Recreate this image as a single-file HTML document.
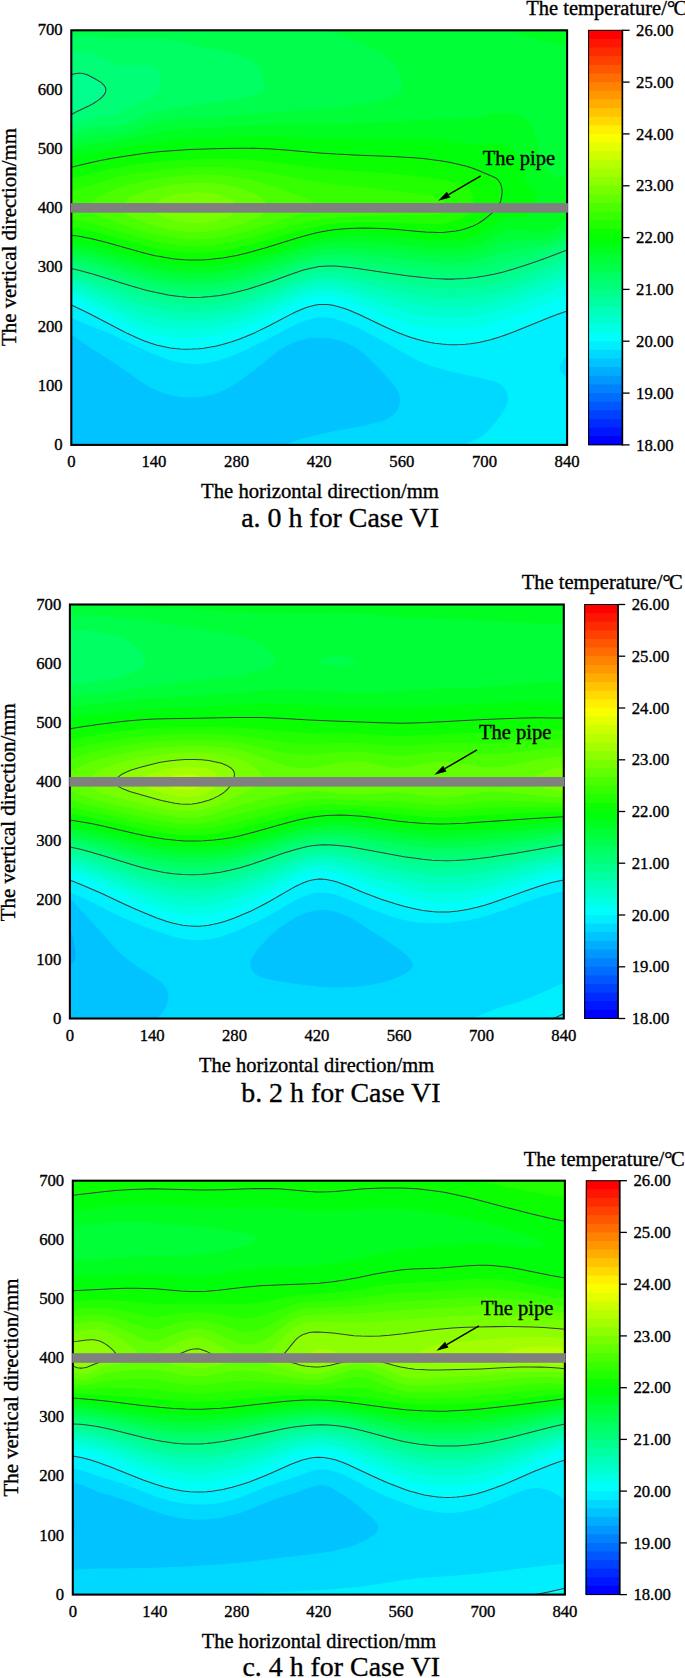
<!DOCTYPE html>
<html><head><meta charset="utf-8"><title>Temperature contours for Case VI</title>
<style>html,body{margin:0;padding:0;background:#fff}svg{display:block}text{stroke:#000;stroke-width:.35px}</style></head>
<body>
<svg width="685" height="1678" viewBox="0 0 685 1678" font-family="'Liberation Serif','Noto Serif CJK SC',serif" fill="#000">
<rect x="71.3" y="30.3" width="495.8" height="414.6" fill="#00c3ff"/>
<path fill="#00d9ff" d="M285.1,444.9 567.1,444.9 567.1,30.3 71.3,30.3 71.3,334.6 73.7,336.5 78.4,339.7 80.1,340.7 92.5,349.2 113.8,362.4 142.1,382.5 146.9,385.5 151.4,388 158.7,391.4 163.4,393.2 168.1,394.6 172.8,395.8 177.5,396.6 182.3,397.2 187,397.5 191.7,397.6 198.8,397.1 203.5,396.5 208.2,395.5 213,394.3 217.7,392.7 222.4,390.9 227.1,388.6 231.8,386 236.6,382.9 253.1,371 262.5,363.8 279.4,350.1 281.4,349 283,347.8 286.1,346.3 288.5,344.9 293.2,342.7 300.3,340.2 308.3,338.3 312.1,337.8 321.6,337.7 328.6,338.1 333.4,338.9 340.4,340.7 345.2,342.4 351.7,345.4 356,347.8 359.5,350.1 364.1,354 368.8,358.4 375.9,365.4 383.9,373.8 392.3,383.3 395.8,388 398.6,392.8 399.4,395.1 399.9,397.5 400.1,399.9 399.4,404.6 398.8,407 397.7,409.4 396.2,411.7 394.2,414.1 390,417.2 385.3,419.7 381.4,421.2 378.2,422.2 371.1,424.1 364.1,425.8 328.6,432.3 307.4,437.2 300.3,439.1 293.2,441.4 288.5,443.2 285.1,444.9Z"/>
<path fill="#00efff" d="M463.6,444.9 567.1,444.9 567.1,379.8 566.5,378.6 560.6,371.5 559.9,369.1 559.9,366.7 560.8,364.3 563.7,359.6 567.1,355.2 567.1,30.3 71.3,30.3 71.3,317.8 83.1,323 111.4,334.3 120.9,338.7 123.2,340 142.1,349 151.6,353.3 156.2,354.9 158.7,356.1 168.1,359.4 175.2,361.5 184.6,363.2 189.3,363.8 194.1,364 198.8,363.9 203.5,363.5 210.6,362.5 220,360.1 229.5,356.9 243.6,350.9 255.5,345.3 269.6,338.2 288.5,328.1 295.6,324.6 302.7,321.5 309.8,319 316.8,317.5 319.2,317.3 323.9,317.2 331,317.9 335.7,319 340.4,320.4 349.9,324 361.7,329.7 386.5,343 411.3,357.1 418.4,360.7 425.4,363.7 430.2,365.5 437.2,367.8 446.7,370.4 458.5,373.3 479.7,377.8 493.9,381.3 496.3,382.1 498.8,383.3 501,384.8 503.4,387.1 505.7,390.2 507,392.8 507.8,395.1 508.1,396.8 508.1,399.9 506.9,404.6 505.8,407 503.4,411.4 500.1,416.5 498.3,418.8 494.4,423.6 487.9,430.7 485.6,433.1 482.8,435.4 479.2,437.8 477.4,438.7 463.6,444.9Z"/>
<path fill="#00fffa" d="M169.5,347.8 175.2,348.5 182.3,349.1 189.3,349.2 196.4,348.9 203.5,348.2 210.6,347.1 217.7,345.6 224.8,343.8 231.8,341.7 238.9,339.2 246,336.5 255.5,332.4 269.6,325.5 290.2,314.6 300.3,309.8 306.3,307.5 309.8,306.4 314.5,305.2 319.2,304.6 326.3,304.5 331.7,305.1 340.4,307.2 347.5,309.6 359.2,314.6 385.3,327 397.1,332.3 408.9,336.7 416,339 425.4,341.4 434.9,343.2 442,344.1 451.4,344.7 460.9,344.6 470.3,343.8 482.1,341.8 491.5,339.5 501,336.6 512.8,332.3 550.5,317 557.7,314.3 567.1,311.1 567.1,30.3 71.3,30.3 71.3,305.1 86.6,312.2 122.9,331.2 132.7,335.9 137.4,338 144.5,340.9 153.9,344.2 161,346.1 169.5,347.8Z"/>
<path fill="#00ffe4" d="M179.4,338.3 184.6,338.4 191.7,338.2 198.8,337.7 205.9,336.9 213,335.8 220,334.4 231.8,331.4 243.6,327.5 255.5,322.7 267.3,317.4 291.9,305.1 300.3,301.4 305,299.6 309.8,298.1 314.5,297 319.2,296.3 323.9,296.1 331,296.5 338.1,297.8 345.2,299.8 357,304 380.6,313.7 392.4,318.2 404.2,322.2 413.6,324.8 423.1,326.7 432.5,328.1 442,328.9 451.4,329.1 463.2,328.5 472.7,327.3 482.1,325.4 491.5,322.9 512.8,316.1 529.3,310.2 545.9,303.9 567.1,295.1 567.1,30.3 71.3,30.3 71.3,297.1 78.4,299.9 84.7,302.8 94,307.5 111.4,316.9 120.9,321.8 130.3,326.3 139.8,330.2 149.2,333.5 158.7,335.9 168.1,337.4 172.8,337.9 179.4,338.3Z"/>
<path fill="#00ffce" d="M179.6,328.8 191.7,328.8 198.8,328.4 205.9,327.7 213,326.8 220,325.5 231.8,322.7 243.6,319 257.8,313.7 269.6,308.6 292.2,298 300.3,294.6 305,292.9 309.8,291.5 314.5,290.4 319.2,289.7 323.9,289.4 331,289.8 335.7,290.4 342.8,291.9 347.9,293.3 355.5,295.6 380.6,304.3 392.4,308.2 404.2,311.5 413.6,313.7 425.4,315.7 434.9,316.8 444.3,317.4 453.8,317.4 465.6,316.7 475,315.5 486.8,313.2 498.6,310.1 512.8,305.6 529.3,299.8 548.2,292.4 567.1,284.7 567.1,30.3 71.3,30.3 71.3,290.7 78.4,293.2 85.5,296.2 94.4,300.4 120.9,313.5 130.3,317.7 139.8,321.3 149.2,324.2 158.7,326.5 168.1,327.9 179.6,328.8Z"/>
<path fill="#00ffb8" d="M171,319.3 177.5,319.9 184.6,320.3 191.7,320.3 198.8,320.1 205.9,319.5 213,318.6 220,317.4 227.1,316 234.2,314.2 241.3,312.1 255.5,307.3 269.6,301.6 293.2,291.3 302.7,287.6 309.8,285.5 314.5,284.4 319.2,283.7 323.9,283.4 328.6,283.5 333.4,283.9 338.1,284.5 345.2,285.9 355.3,288.5 380.6,295.8 392.4,299 406.6,302.3 418.4,304.5 432.5,306.3 444.3,307.1 451.4,307.2 458.5,307.1 470.3,306.2 479.7,304.9 489.2,303.1 498.6,300.8 510.4,297.3 519.9,294.1 531.7,289.8 567.1,275.8 567.1,30.3 71.3,30.3 71.3,284.9 78.4,287.3 87.9,290.9 120.9,305.4 130.3,309.1 137.4,311.7 144.5,313.9 153.9,316.4 163.4,318.3 171,319.3Z"/>
<path fill="#00ffa3" d="M185.2,312.2 196.4,312.3 208.2,311.6 220,309.9 227.1,308.5 234.2,306.8 246,303.5 260.2,298.6 272,294 291,286.2 300.3,282.7 309.8,279.8 314.5,278.8 319.2,278.1 323.9,277.7 331,277.8 335.7,278.2 342.8,279.2 352.3,281.1 380.6,287.8 394.8,290.9 408.9,293.6 420.7,295.4 432.5,296.8 442,297.4 451.4,297.7 460.9,297.5 472.7,296.5 482.1,295.3 493.9,293.1 503.4,290.7 512.8,287.9 524.6,283.8 567.1,267.3 567.1,30.3 71.3,30.3 71.3,279.5 78.4,281.6 87.8,284.8 118.5,296.6 128,300.1 137.4,303.2 144.5,305.3 156.3,308.3 165.7,310.2 175.2,311.5 185.2,312.2Z"/>
<path fill="#00ff8d" d="M169.4,302.8 175.2,303.6 182.3,304.3 189.3,304.7 196.4,304.8 203.5,304.5 210.6,303.9 217.7,303 224.8,301.8 231.8,300.2 238.9,298.5 246,296.5 255.5,293.5 269.6,288.5 295.6,278.5 305,275.4 314.5,273.2 319.2,272.4 323.9,272 328.6,271.9 333.4,272.1 338.1,272.5 345.2,273.4 399.5,283.2 416,285.7 427.8,287.1 439.6,288.1 451.4,288.4 463.2,288.1 475,287.1 484.5,285.8 493.9,284 501,282.4 510.4,279.7 519.9,276.7 529.3,273.3 567.1,258.9 567.1,30.3 71.3,30.3 71.3,274 78.4,276 88.6,279.1 125.6,291.5 139.8,295.9 153.9,299.7 161,301.2 169.4,302.8Z"/>
<path fill="#00ff77" d="M172.4,295.6 179.9,296.6 187,297.2 198.8,297.4 205.9,297.1 213,296.4 220,295.4 227.1,294.2 238.9,291.5 246,289.6 255.5,286.8 269.6,282.1 295.6,272.6 305,269.6 314.5,267.4 319.2,266.6 323.9,266.2 333.4,266 345.2,266.9 408.9,275.9 423.1,277.6 432.5,278.5 444.3,279.1 453.8,279.1 463.2,278.7 472.7,277.8 482.1,276.5 491.5,274.7 503.2,272 512.8,269.3 524.6,265.5 536.4,261.5 567.1,250.1 567.1,30.3 71.3,30.3 71.3,75 73.7,74.1 76,73.5 78.4,73.2 80.7,73.2 83.1,73.6 87.8,75.1 94.9,78.7 101.1,82.4 103.6,84.8 105.3,87.2 105.9,89.5 105.6,91.9 104.5,94.3 102,97.1 99.8,99 97.3,100.9 92.9,103.7 88.6,106.1 76,111.9 71.3,114.9 71.3,268.4 80.7,270.8 93.4,274.3 128,285 144.5,289.7 158.7,293.2 165.7,294.6 172.4,295.6Z"/>
<path fill="#00ff62" d="M169.9,288.5 177.5,289.6 184.6,290.3 191.7,290.6 198.8,290.7 205.9,290.4 213,289.7 220,288.8 227.1,287.6 241.3,284.5 255.5,280.5 269.6,276 294.4,267.2 305,263.9 310.6,262.5 316.8,261.2 321.6,260.6 326.3,260.1 331,259.9 338.1,260 349.9,260.8 373.5,263.4 416,268.5 434.9,270.3 444.3,270.7 451.4,270.7 460.9,270.3 467.9,269.7 477.4,268.3 484.5,266.8 508.1,260.4 531.7,254.7 541.1,252.2 548.2,250 555.3,247.5 562.4,244.5 567.1,242.1 567.1,30.3 71.3,30.3 71.3,54.1 73.7,53.3 78.4,52.4 83.1,52.4 87.8,53.1 92.5,54.3 97.3,56 109.1,61.5 113.8,63.5 118.5,64.9 123.2,65.7 130.3,66.2 146.9,65.6 149.2,65.8 151.6,66.3 153.9,67.2 155.6,68.2 158,70.6 158.7,72 159.8,75.3 160.2,77.7 160.5,84.8 160.5,87.2 160.3,89.5 159.1,91.9 156.4,94.3 152.3,96.6 132.7,105.5 122.7,110.9 118.5,112.9 113.8,114.7 111.4,115.3 94.9,117.6 90.2,118.5 85.5,119.7 80.7,121.4 78.4,122.4 76,123.7 71.3,127.1 71.3,262.9 80.7,265 92.5,268.1 132.7,279.9 144.5,283.1 158.7,286.5 169.9,288.5Z"/>
<path fill="#00ff4c" d="M179.5,283.8 191.7,284.6 198.8,284.6 205.9,284.3 217.7,283.1 224.8,282.1 231.8,280.7 243.6,278 257.8,274.1 272,269.6 295.6,261.5 307.4,257.9 314.5,256.2 319.2,255.4 328.6,254.3 340.4,254 347.5,254.3 357,254.9 380.6,257.1 420.7,261.5 437.2,262.9 451.4,263.2 458.5,263 465.6,262.4 472.7,261.3 479.7,259.7 486.4,257.7 501,252.6 508.1,250.8 517.5,249.1 536.4,246.6 545.9,244.8 550.6,243.5 555.3,241.8 560,239.6 564.7,236.8 567.1,235.1 567.1,30.3 71.3,30.3 71.3,36.6 78.4,36 87.8,36.1 97.3,36.9 111.4,38.6 118.5,39 125.6,38.8 139.8,37.9 146.9,37.7 153.9,37.7 161,38.2 168.1,39.1 175.2,40.3 183.6,42.1 196.4,45.7 205.9,47.9 227.1,51.5 231.8,52.5 237.6,54 241.3,55.4 248.2,58.7 251.9,61.1 257.5,65.8 261,70.6 262.2,72.9 263.9,77.7 264.2,80.1 264.7,84.8 264.7,89.5 262,91.9 257.3,94.3 249.2,96.6 236.4,99 221.3,101.4 177.5,107.5 163.4,110.1 156.3,111.8 151.6,113.3 144.5,116 132.7,120.9 127.8,122.7 123.2,124.1 116.2,125.7 111.4,126.4 94.9,127.1 87.8,128 83.1,129.2 78.4,131.1 76,132.3 71.3,135.3 71.3,257.8 80.7,259.7 92.5,262.6 104.4,265.8 135,274.7 149.2,278.4 158.7,280.6 165.7,281.9 172.8,283 179.5,283.8Z"/>
<path fill="#00ff36" d="M168.7,276.7 175.2,277.6 182.3,278.3 189.3,278.7 196.4,278.9 203.5,278.7 210.6,278.2 217.7,277.4 227.1,275.9 241.3,273 257.8,268.6 272,264.2 298,255.5 307.4,252.7 314.5,250.9 319.2,250 323.9,249.2 331,248.5 338.1,248.1 347.5,248 357,248.3 366.4,248.9 385.3,250.5 423.1,254.6 439.6,255.8 451.4,256.1 458.5,255.8 463.2,255.4 467.9,254.7 472.7,253.8 479.7,251.9 486.8,249.2 498.6,243.8 501,242.9 505.7,241.6 510.4,240.7 515.2,240.3 519.9,240 534,239.9 538.8,239.6 543.5,239.1 548.2,238.2 552.9,236.9 557.7,234.8 560,233.5 562.7,231.7 567.1,227.9 567.1,30.3 319.2,30.3 326.3,31.2 331,32.2 335.7,33.4 342.8,35.6 353.8,39.8 370.1,46.9 379.1,51.6 386.5,56.4 389.5,58.7 394.4,63.5 397.8,68.2 399.9,72.9 400.6,75.3 401.1,77.7 401.7,82.4 401.8,89.5 400.1,91.9 397.5,94.3 392.5,96.6 385.3,99 380.6,100.3 376.6,101.4 371.1,102.4 361.7,104.1 348.8,106.1 328.9,108.5 300.3,110.7 274.3,112.2 250.7,113.8 203.5,117.7 177.5,119.2 168.1,120.2 161,121.4 153.9,123.1 132.8,129.8 120.9,132.9 116.2,133.8 111.4,134.4 92.5,135.5 85.5,136.7 80.7,138 78.4,138.9 76,140 71.3,142.6 71.3,252.8 83.1,255 94.9,257.8 106.7,261 135,269.1 146.9,272.2 158.7,274.9 168.7,276.7ZM278,30.3 288.5,30.8 304.3,30.3 278,30.3Z"/>
<path fill="#00ff21" d="M176.1,272 182.3,272.5 189.3,273 196.4,273.1 203.5,272.9 215.3,271.9 222.4,270.9 230.3,269.6 243.6,266.7 259.6,262.5 274.3,257.9 298,250.1 309.8,246.7 319.2,244.5 331,242.7 338.1,242.1 347.5,241.7 357,241.8 366.4,242.1 385.3,243.5 418.4,247 432.5,248.2 446.7,248.8 456.1,248.6 463.2,248 467.9,247.2 472.7,246.2 477.4,244.7 480.5,243.5 484.5,241.7 498.6,233.8 503.4,231.9 508.1,230.8 512.8,230.3 517.5,230.3 534,231.7 538.8,231.9 543.5,231.7 545.9,231.4 550.6,230.2 553.3,229.3 557.7,226.9 560.8,224.6 562.4,223.1 567.1,217.9 567.1,162.1 564.7,172.2 563.5,174.8 562.4,176.7 561.6,177.2 560,178 557.7,177.8 555.3,177.1 552.9,176 550.6,174.5 548.2,172.6 545.9,170 544.1,167.7 541.7,163 540.1,158.2 538.9,153.5 537,141.6 535.3,134.5 534,131 532.4,127.4 531.1,125.1 529.4,122.7 527,120.1 524.6,118.2 522.2,116.8 519.9,115.7 517.5,114.9 512.8,113.8 505.7,113.1 501,113 496.3,113.4 491.5,114.2 482.1,116.4 475,117.8 465.6,118.7 442,119 432.5,119.3 378.2,122.6 345.2,124 321.6,124.5 276.7,124.6 257.8,125.1 238.9,126 203.5,128.2 175.2,129.6 165.7,130.5 156.3,132 149.2,133.6 130.3,138.3 118.5,140.7 109.1,142 92.5,143.5 87.8,144.2 83.1,145.3 78.4,146.8 71.3,149.8 71.3,247.6 83.1,249.6 94.9,252.3 109.1,256.1 137.4,264.1 149.5,267.2 163.4,270.1 176.1,272ZM559,44.5 567.1,46.1 567.1,30.3 506.2,30.3 543.5,40.8 550.6,42.6 559,44.5Z"/>
<path fill="#00ff0b" d="M168,264.8 175.2,265.8 182.3,266.5 189.3,266.9 196.4,267 203.5,266.8 210.6,266.2 220,265.2 227.1,264.1 241.3,261.2 255.5,257.7 271.4,253 298,244.4 312.1,240.3 323.9,237.8 331,236.7 338.1,235.9 345.2,235.4 354.6,235.1 364.1,235.2 373.5,235.5 392.4,236.9 425.4,240.2 439.6,241 446.7,241.1 453.8,240.9 460.9,240.2 465.6,239.4 470.3,238.3 475,236.8 481.2,234 486.8,230.7 496.3,224 501,221.3 503.4,220.3 505.7,219.5 510.4,218.4 522.2,217.3 524.6,216.7 527,215.7 527.7,215.1 529.8,212.7 532.3,208 535.6,198.5 536.2,196.1 536.3,193.8 535.7,191.4 533.8,189 529.3,185 527,181.9 525,177.2 519.9,162.8 517.5,157.6 515.1,153.5 512.8,150.6 510.9,148.8 508.1,146.6 505.7,145.3 503.4,144.4 501,143.8 498.6,143.4 493.9,143.5 484.5,144.8 482.1,145 477.4,145 467.9,144 451.4,141.2 442,139.9 432.5,139.1 423.1,138.7 411.3,138.5 364.1,138.6 342.8,138.5 321.6,137.9 279.1,136.2 264.9,136 250.7,136.2 229.5,136.9 184.6,139.1 165.7,140.4 151.6,142.2 120.9,147.8 87.8,152.9 78.4,155.1 71.3,157.5 71.3,242 83.1,243.8 94.9,246.4 106.7,249.4 135,257.5 144.9,260.1 156.3,262.7 168,264.8Z"/>
<path fill="#0bff00" d="M166.4,257.7 175.2,258.9 182.3,259.6 189.3,260 196.4,260.1 203.5,259.9 210.6,259.4 224.8,257.6 238.9,254.9 255.9,250.6 272.2,245.9 300.3,237.1 311.5,234 323.9,231.4 331,230.2 338.7,229.3 347.5,228.6 357,228.2 366.4,228.1 375.9,228.3 392.4,229.1 420.7,231.7 434.9,232.4 442,232.3 446.7,232 453.8,231.3 458.5,230.5 463.6,229.3 467.9,228 472.7,226.2 477.4,223.9 482.1,220.9 486.7,217.5 495.1,210.4 497.5,208 499.8,203.2 501.3,198.5 502,193.8 502.1,191.4 501.9,189 501.5,186.7 500.7,184.3 499.5,181.9 498.6,180.7 496.3,178.4 493.9,177 491.5,175.9 475,169.2 465.6,166.1 456.1,163.7 444.3,161.4 427.8,159.1 411.3,157.7 390,156.5 354.6,155 335.7,154.1 319.2,152.9 288.5,150.2 272,149 250.7,148.3 227.1,148.3 198.8,149.2 170.5,150.8 149.2,152.8 128,155.7 112.7,158.2 90.2,162.7 71.3,167.2 71.3,235.2 83.1,236.9 94.9,239.4 106.7,242.5 144.1,253 153.9,255.4 166.4,257.7Z"/>
<path fill="#21ff00" d="M167.2,250.6 179.9,252.3 187,252.8 194.1,253 201.2,252.8 208.2,252.4 215.3,251.7 222.4,250.7 236.6,248.1 250.7,244.7 264.9,240.7 293.2,232.2 307.4,228.5 314.5,226.9 321.6,225.5 335.7,223.6 352.3,222.4 371.1,221.9 392.4,222.2 418.4,223.7 427.8,224.1 437.2,223.9 442,223.5 446.7,222.8 453.8,221.1 458.5,219.4 462.7,217.5 465.6,215.7 469.4,212.7 471.4,210.4 472.4,208 473,203.2 473.1,200.9 472.7,196.1 472.1,193.8 471.1,191.4 470.3,190.2 469.4,189 466.5,186.7 465.6,186.2 461.7,184.3 456.1,182.4 449.1,180.7 442,179.4 423.1,176.8 401.8,174.5 380.6,172.8 340.4,170 323.9,168.6 307.4,166.6 272,161.9 255.5,160.2 241.3,159.2 224.8,158.7 208.2,158.7 191.7,159.2 175.2,160.3 156.3,162 137.4,164.3 123.2,166.5 109.1,169.3 83.1,175.9 71.3,178.5 71.3,227.7 83.1,229.5 94.9,232 109.1,235.7 144.5,245.8 156.3,248.6 167.2,250.6Z"/>
<path fill="#36ff00" d="M185.4,245.9 196.4,246.2 205.9,245.8 217.7,244.6 229.5,242.6 238.9,240.6 250.7,237.5 283.8,227.8 298,224 312.1,220.9 326.3,218.7 335.7,217.7 347.5,216.8 375.9,215.5 397.1,215 423.1,215.4 427.8,215.2 432.5,214.8 439.6,213.3 441.6,212.7 444.3,211.2 445.6,210.4 446.9,208 446.7,206.4 446.6,205.6 445.5,203.2 444.3,201.8 443.4,200.9 439.9,198.5 437.2,197.4 433.6,196.1 427.8,194.9 420.1,193.8 399.5,191.8 361.7,186.9 333.4,184 321.6,182.5 312.1,181.1 300.3,179.1 262.5,171.6 253.1,170.1 243.6,168.9 231.8,167.8 220,167.1 208.2,166.9 196.4,167.1 184.6,167.6 170.5,168.8 158.7,170.1 144.5,172.1 128.9,174.8 116.2,177.7 104.4,181 83.1,187.6 71.3,190.6 71.3,219.6 83.1,221.7 97.3,225.1 109.1,228.4 137.4,236.8 153.9,241.1 163.4,243.1 170.5,244.3 177.5,245.2 185.4,245.9Z"/>
<path fill="#4cff00" d="M182,238.8 187,239.2 194.1,239.4 205.9,239 217.7,237.7 224.8,236.5 231.8,235 238.9,233.3 248.4,230.7 260.4,226.9 286.1,218.3 300.3,214.2 314.7,210.4 319.2,208 318,205.6 315,203.2 310.8,200.9 305.6,198.5 299.8,196.1 287.5,191.4 274.3,186.7 267.2,184.3 259.1,181.9 248.4,179.3 236.6,177.2 227.1,175.9 215.3,175 203.5,174.6 191.7,174.9 179.9,175.7 166.5,177.2 151.6,179.6 139.9,181.9 130.3,184.3 118.5,188 109.6,191.4 104.4,193.8 99.8,196.1 95.7,198.5 92.2,200.9 89.4,203.2 87.7,205.6 87,208 88.4,210.4 92,212.7 97,215.1 103,217.5 122.9,224.6 137.5,229.3 149.2,232.7 161,235.5 170.5,237.3 182,238.8Z"/>
<path fill="#62ff00" d="M185.8,231.7 191.7,232 198.8,232 205.9,231.6 213,230.8 220,229.6 227.1,228.1 231.9,226.9 239.9,224.6 246.7,222.2 252.5,219.8 257.6,217.5 261.9,215.1 265.3,212.7 267.5,210.4 268.3,208 267.9,205.6 266.7,203.2 264.8,200.9 262.1,198.5 258.7,196.1 255.5,194.3 249.3,191.4 242.9,189 234.5,186.7 224.8,184.7 217.7,183.7 208.2,182.9 198.8,182.7 191.7,182.9 182.3,183.5 172.8,184.7 161.9,186.7 152,189 144.5,191.3 137.8,193.8 132.7,196.1 128.6,198.5 125.6,200.8 123.2,203.2 121.8,205.6 121.3,208 122.1,210.4 124.4,212.7 127.8,215.1 132.2,217.5 137.5,219.8 142.1,221.6 150.5,224.6 158.7,226.9 168.8,229.3 177.5,230.8 185.8,231.7Z"/>
<path fill="#77ff00" d="M183,222.2 191.7,223 196.4,223 201.2,222.9 205.9,222.4 210.6,221.8 220,219.6 227.1,217.2 231.5,215.1 235,212.7 237.1,210.4 237.9,208 237.3,205.6 235.7,203.2 234.2,201.9 233,200.9 229,198.5 222.4,195.9 215.3,194.1 210.6,193.2 203.5,192.5 198.8,192.3 189.3,192.6 179.5,193.8 169.4,196.1 162.8,198.5 158.2,200.9 155.1,203.2 153.3,205.6 152.6,208 153.4,210.4 155.5,212.7 156.3,213.2 159.2,215.1 164.3,217.5 172.8,220.2 183,222.2Z"/>
<path fill="none" stroke="#3c3c3c" stroke-width="1.05" stroke-linejoin="round" d="M71.3,305.1 76.7,307.5 86.6,312.2 97.3,317.7 118.3,328.8 127.7,333.6 137.4,338 144.5,340.9 150.3,343 156.3,344.9 161,346.1 165.7,347.1 170.5,347.9 175.2,348.5 179.9,348.9 187,349.2 191.7,349.1 198.8,348.7 203.5,348.2 210.6,347.1 215.3,346.2 222.4,344.5 231.8,341.7 238.9,339.2 243.6,337.4 255.5,332.4 269.6,325.5 290.2,314.6 295,312.2 300.1,309.9 306.3,307.5 309.8,306.4 314.5,305.2 319.2,304.6 321.6,304.5 326.3,304.5 331.7,305.1 335.7,306 340.4,307.2 347.5,309.6 353.9,312.2 359.2,314.6 385.3,327 397.1,332.3 404.2,335.1 408.9,336.7 416,339 425.4,341.4 430.2,342.4 434.9,343.2 442,344.1 446.7,344.5 451.4,344.7 456.1,344.7 460.9,344.6 465.6,344.3 470.3,343.8 477.4,342.7 482.1,341.8 491.5,339.5 501,336.6 512.8,332.3 524.6,327.6 538.7,321.7 550.5,317 557.7,314.3 563.6,312.2 567.1,311.1M71.3,268.4 80.7,270.8 93.4,274.3 128,285 137.4,287.8 146.9,290.4 156.3,292.6 168.1,295 175.2,296 179.9,296.6 187,297.2 191.7,297.4 201.2,297.3 210.6,296.6 220,295.4 229.5,293.7 238.9,291.5 248.4,289 260.2,285.3 272,281.2 293.2,273.4 302.7,270.3 309.8,268.4 314.5,267.4 319.2,266.6 323.9,266.2 328.6,266 333.4,266 338.1,266.3 345.2,266.9 352.3,267.8 387.7,272.9 408.9,275.9 423.1,277.6 432.5,278.5 444.3,279.1 453.8,279.1 460.9,278.8 465.6,278.5 475,277.5 484.5,276.1 493.9,274.2 503.4,271.9 512.8,269.3 524.6,265.5 536.4,261.5 548.2,257.2 567.1,250.1M71.3,75 73.7,74.1 76,73.5 78.4,73.2 80.7,73.2 83.1,73.6 85.5,74.2 87.8,75.1 90.2,76.2 94.9,78.7 101.1,82.4 103.6,84.8 105.3,87.2 105.9,89.5 105.6,91.9 104.5,94.3 102,97.1 99.8,99 97.3,100.9 92.9,103.7 88.6,106.1 76,111.9 73.7,113.3 71.3,114.9M71.3,235.2 76,235.8 83.1,236.9 94.9,239.4 106.7,242.5 135,250.6 144.1,253 153.9,255.4 165.7,257.6 172.8,258.7 177.5,259.2 184.6,259.8 189.3,260 194.1,260.1 201.2,260 205.9,259.7 213,259.1 222.4,257.9 229.5,256.8 236.6,255.4 246,253.2 255.9,250.6 264.9,248.1 298,237.8 309.8,234.5 316.8,232.8 321.6,231.8 328.6,230.6 335.7,229.6 345.2,228.8 354.6,228.3 364.1,228.1 373.5,228.2 382.9,228.6 394.8,229.3 418.4,231.5 425.4,232 432.5,232.3 437.2,232.4 444.3,232.2 449.1,231.8 456.1,230.9 460.9,230 465.6,228.8 470.3,227.1 472.7,226.2 477.4,223.9 480.2,222.2 484.5,219.2 486.8,217.4 495.1,210.4 497.5,208 499.8,203.2 500.7,200.9 501.3,198.5 502,193.8 502.1,191.4 501.9,189 501.5,186.7 500.7,184.3 499.5,181.9 498.6,180.7 497.6,179.6 496.3,178.4 494.3,177.2 491.5,175.9 479.7,171.1 472.7,168.3 465.6,166.1 463.2,165.4 456.1,163.7 449.1,162.2 442,161 432.5,159.7 423.1,158.6 413.6,157.8 392.4,156.6 354.6,155 335.7,154.1 319.2,152.9 288.5,150.2 272,149 260.2,148.5 248.4,148.2 236.6,148.2 222.4,148.4 205.9,148.9 189.3,149.6 175.2,150.5 161,151.6 149.2,152.8 139.8,154 126.7,155.9 113.8,158 100.3,160.6 89.1,163 78.4,165.4 71.3,167.2"/>
<rect x="71.3" y="30.3" width="495.8" height="414.6" fill="none" stroke="#000" stroke-width="2.1"/>
<rect x="70.7" y="203.1" width="497.2" height="9.6" fill="#808080"/>
<text x="62.7" y="450" text-anchor="end" font-size="16.7">0</text>
<text x="62.7" y="390.8" text-anchor="end" font-size="16.7">100</text>
<text x="62.7" y="331.5" text-anchor="end" font-size="16.7">200</text>
<text x="62.7" y="272.3" text-anchor="end" font-size="16.7">300</text>
<text x="62.7" y="213.1" text-anchor="end" font-size="16.7">400</text>
<text x="62.7" y="153.9" text-anchor="end" font-size="16.7">500</text>
<text x="62.7" y="94.6" text-anchor="end" font-size="16.7">600</text>
<text x="62.7" y="35.4" text-anchor="end" font-size="16.7">700</text>
<text x="71.3" y="467.4" text-anchor="middle" font-size="16.7">0</text>
<text x="153.9" y="467.4" text-anchor="middle" font-size="16.7">140</text>
<text x="236.6" y="467.4" text-anchor="middle" font-size="16.7">280</text>
<text x="319.2" y="467.4" text-anchor="middle" font-size="16.7">420</text>
<text x="401.8" y="467.4" text-anchor="middle" font-size="16.7">560</text>
<text x="484.5" y="467.4" text-anchor="middle" font-size="16.7">700</text>
<text x="567.1" y="467.4" text-anchor="middle" font-size="16.7">840</text>
<text x="320" y="498" text-anchor="middle" font-size="20.7">The horizontal direction/mm</text>
<text transform="translate(16.4,237) rotate(-90)" text-anchor="middle" font-size="20.9">The vertical direction/mm</text>
<text x="241.2" y="527.2" font-size="27.9">a. 0 h for Case VI</text>
<rect x="588.2" y="30.30" width="34.2" height="414.60" fill="#ff0000"/>
<rect x="588.2" y="38.94" width="34.2" height="405.96" fill="#ff1600"/>
<rect x="588.2" y="47.57" width="34.2" height="397.32" fill="#ff2b00"/>
<rect x="588.2" y="56.21" width="34.2" height="388.69" fill="#ff4100"/>
<rect x="588.2" y="64.85" width="34.2" height="380.05" fill="#ff5700"/>
<rect x="588.2" y="73.49" width="34.2" height="371.41" fill="#ff6d00"/>
<rect x="588.2" y="82.12" width="34.2" height="362.77" fill="#ff8200"/>
<rect x="588.2" y="90.76" width="34.2" height="354.14" fill="#ff9800"/>
<rect x="588.2" y="99.40" width="34.2" height="345.50" fill="#ffae00"/>
<rect x="588.2" y="108.04" width="34.2" height="336.86" fill="#ffc300"/>
<rect x="588.2" y="116.68" width="34.2" height="328.22" fill="#ffd900"/>
<rect x="588.2" y="125.31" width="34.2" height="319.59" fill="#ffef00"/>
<rect x="588.2" y="133.95" width="34.2" height="310.95" fill="#faff00"/>
<rect x="588.2" y="142.59" width="34.2" height="302.31" fill="#e4ff00"/>
<rect x="588.2" y="151.23" width="34.2" height="293.67" fill="#ceff00"/>
<rect x="588.2" y="159.86" width="34.2" height="285.04" fill="#b8ff00"/>
<rect x="588.2" y="168.50" width="34.2" height="276.40" fill="#a3ff00"/>
<rect x="588.2" y="177.14" width="34.2" height="267.76" fill="#8dff00"/>
<rect x="588.2" y="185.77" width="34.2" height="259.12" fill="#77ff00"/>
<rect x="588.2" y="194.41" width="34.2" height="250.49" fill="#62ff00"/>
<rect x="588.2" y="203.05" width="34.2" height="241.85" fill="#4cff00"/>
<rect x="588.2" y="211.69" width="34.2" height="233.21" fill="#36ff00"/>
<rect x="588.2" y="220.32" width="34.2" height="224.57" fill="#21ff00"/>
<rect x="588.2" y="228.96" width="34.2" height="215.94" fill="#0bff00"/>
<rect x="588.2" y="237.60" width="34.2" height="207.30" fill="#00ff0b"/>
<rect x="588.2" y="246.24" width="34.2" height="198.66" fill="#00ff21"/>
<rect x="588.2" y="254.88" width="34.2" height="190.02" fill="#00ff36"/>
<rect x="588.2" y="263.51" width="34.2" height="181.39" fill="#00ff4c"/>
<rect x="588.2" y="272.15" width="34.2" height="172.75" fill="#00ff62"/>
<rect x="588.2" y="280.79" width="34.2" height="164.11" fill="#00ff77"/>
<rect x="588.2" y="289.42" width="34.2" height="155.48" fill="#00ff8d"/>
<rect x="588.2" y="298.06" width="34.2" height="146.84" fill="#00ffa3"/>
<rect x="588.2" y="306.70" width="34.2" height="138.20" fill="#00ffb8"/>
<rect x="588.2" y="315.34" width="34.2" height="129.56" fill="#00ffce"/>
<rect x="588.2" y="323.98" width="34.2" height="120.92" fill="#00ffe4"/>
<rect x="588.2" y="332.61" width="34.2" height="112.29" fill="#00fffa"/>
<rect x="588.2" y="341.25" width="34.2" height="103.65" fill="#00efff"/>
<rect x="588.2" y="349.89" width="34.2" height="95.01" fill="#00d9ff"/>
<rect x="588.2" y="358.52" width="34.2" height="86.38" fill="#00c3ff"/>
<rect x="588.2" y="367.16" width="34.2" height="77.74" fill="#00aeff"/>
<rect x="588.2" y="375.80" width="34.2" height="69.10" fill="#0098ff"/>
<rect x="588.2" y="384.44" width="34.2" height="60.46" fill="#0082ff"/>
<rect x="588.2" y="393.07" width="34.2" height="51.82" fill="#006dff"/>
<rect x="588.2" y="401.71" width="34.2" height="43.19" fill="#0057ff"/>
<rect x="588.2" y="410.35" width="34.2" height="34.55" fill="#0041ff"/>
<rect x="588.2" y="418.99" width="34.2" height="25.91" fill="#002bff"/>
<rect x="588.2" y="427.62" width="34.2" height="17.27" fill="#0016ff"/>
<rect x="588.2" y="436.26" width="34.2" height="8.64" fill="#0000ff"/>
<rect x="588.6" y="30.3" width="33.8" height="414.6" fill="none" stroke="#000" stroke-width="1"/>
<line x1="622.4" y1="29.8" x2="622.4" y2="445.4" stroke="#000" stroke-width="1.6"/>
<line x1="622.4" y1="444.9" x2="629.6" y2="444.9" stroke="#000" stroke-width="1.3"/>
<text x="636.1" y="450.5" font-size="16.7">18.00</text>
<line x1="622.4" y1="393.1" x2="629.6" y2="393.1" stroke="#000" stroke-width="1.3"/>
<text x="636.1" y="398.7" font-size="16.7">19.00</text>
<line x1="622.4" y1="341.2" x2="629.6" y2="341.2" stroke="#000" stroke-width="1.3"/>
<text x="636.1" y="346.9" font-size="16.7">20.00</text>
<line x1="622.4" y1="289.4" x2="629.6" y2="289.4" stroke="#000" stroke-width="1.3"/>
<text x="636.1" y="295" font-size="16.7">21.00</text>
<line x1="622.4" y1="237.6" x2="629.6" y2="237.6" stroke="#000" stroke-width="1.3"/>
<text x="636.1" y="243.2" font-size="16.7">22.00</text>
<line x1="622.4" y1="185.8" x2="629.6" y2="185.8" stroke="#000" stroke-width="1.3"/>
<text x="636.1" y="191.4" font-size="16.7">23.00</text>
<line x1="622.4" y1="133.9" x2="629.6" y2="133.9" stroke="#000" stroke-width="1.3"/>
<text x="636.1" y="139.5" font-size="16.7">24.00</text>
<line x1="622.4" y1="82.1" x2="629.6" y2="82.1" stroke="#000" stroke-width="1.3"/>
<text x="636.1" y="87.7" font-size="16.7">25.00</text>
<line x1="622.4" y1="30.3" x2="629.6" y2="30.3" stroke="#000" stroke-width="1.3"/>
<text x="636.1" y="35.9" font-size="16.7">26.00</text>
<text x="526.3" y="14.6" font-size="20.5">The temperature/<tspan dx="0">°</tspan><tspan dx="-1.6">C</tspan></text>
<text x="482.8" y="164.5" font-size="20.5">The pipe</text>
<line x1="480.8" y1="175.9" x2="448.6" y2="194.7" stroke="#000" stroke-width="1.45"/>
<path d="M438.2,200.7L446.9,191.7L450.3,197.6Z" fill="#000"/>
<rect x="69.9" y="604.5" width="493.9" height="414" fill="#00aeff"/>
<path fill="#00c3ff" d="M69.9,1018.5 563.8,1018.5 563.8,604.5 69.9,604.5 69.9,928.2 72.4,935.7 73.6,940.4 75.2,949.9 75.6,954.6 74.8,959.4 74.6,959.9 72.3,964.1 69.9,966.7 69.9,1018.5Z"/>
<path fill="#00d9ff" d="M156.8,1018.5 563.8,1018.5 563.8,604.5 69.9,604.5 69.9,898.8 72.1,900.2 81.7,910.9 104.5,935.7 114.6,947.5 121.6,954.5 126.3,958.6 133.4,964 138.1,967.2 152.4,975.9 156.9,979 161.9,983 164.1,985.4 165.9,987.7 167.2,990.1 168.2,992.5 168.5,994.8 168.4,997.2 168.1,999.6 166.9,1004.3 165,1009 163.6,1011.4 161.8,1013.8 159.5,1016.1 156.8,1018.5ZM309.8,985.6 291,983.3 279.2,981.5 269.8,979.6 262.8,977.7 258.1,975.7 255.7,974.2 253.3,972.1 252.5,971.2 251.1,968.8 250.4,966.5 250.2,964.1 250.7,961.7 252.6,957 255.6,952.3 257.4,949.9 261.3,945.2 265.6,940.4 270.4,935.7 275.5,931 279.2,928 286.3,923.2 291,920.3 297.3,916.8 302.7,914.2 307.4,912.5 309.8,911.7 314.5,910.5 319.2,909.9 321.6,909.8 326.3,910 331,910.8 335.7,911.9 342.7,914.3 348.5,916.8 353.1,919.1 363.9,926 378,935.3 393.4,945.2 399.9,949.9 405.9,954.6 410.5,959.4 411.8,961.7 412.7,964.1 412.6,966.5 411.4,968.8 409.1,971.2 406.2,973.1 401.5,975.5 392.1,979.6 385.1,981.8 378,983.4 370.9,984.7 359.2,986.3 352.1,987 342.7,987.5 333.3,987.6 326.3,987.3 319.2,986.7 309.8,985.6Z"/>
<path fill="#00efff" d="M471.4,1018.5 563.8,1018.5 563.8,982.6 547.3,990.5 530.9,997.5 518.6,1001.9 507.4,1005.1 495.6,1008.9 490.9,1010.7 478.3,1016.1 471.4,1018.5ZM179.6,938.1 185.1,939.2 189.8,939.8 194.6,940.2 201.6,940.1 208.7,939.3 213.4,938.5 218.1,937.4 225.1,935.3 232.2,932.7 236.3,931 239.2,929.9 255.7,922.4 269.8,915.1 291,902.7 300.4,897.8 305.1,895.8 309.8,894.2 312.1,893.6 316.9,892.8 321.6,892.6 326.3,892.9 331,893.6 338,895.5 347.4,898.9 366.2,907 380.4,912.6 392.1,916.8 401.5,919.5 408.6,921 415.6,922.2 427.4,923.1 434.4,923.3 446.2,922.9 453.3,922.3 457.7,921.5 467.4,920.5 469.7,920 472.4,919.1 479.1,918 482.5,916.8 488.5,915.4 490.7,914.4 495.6,913.1 498.1,912 502.7,910.7 504.9,909.7 509.7,908.1 528.5,901.1 540.3,897.1 552,893.7 559.1,892.1 563.8,891.3 563.8,604.5 69.9,604.5 69.9,892.4 79.3,896.3 91.1,901.7 119.3,915.9 126.3,919.2 133.4,922.3 145.2,926.9 159.3,932.1 168.7,935.2 175.7,937.3 179.6,938.1Z"/>
<path fill="#00fffa" d="M553.5,1018.5 563.8,1018.5 563.8,1013.8 553.5,1018.5ZM193.7,926.2 199.3,926.2 204,925.8 213.4,924.3 222.8,921.9 234.5,918 246.3,913.1 260.4,906.3 269.8,901.3 291.9,888.4 300.4,884.1 307.4,881.3 312.1,880.1 316.9,879.3 321.6,879.1 326.3,879.5 331,880.4 335.7,881.5 342.7,883.9 368.6,894.5 380.4,898.9 394.5,903.6 403.9,906.3 413.3,908.6 422.7,910.4 432.1,911.6 441.5,912.1 448.6,911.9 458,911 467.4,909.5 477.1,907.3 485.5,904.9 493.2,902.5 525.9,890.8 539.9,886 552,882.6 557.6,881.3 563.8,880.1 563.8,604.5 69.9,604.5 69.9,880.3 79.1,883.7 90.3,888.4 135.8,909.3 145.2,913.3 156.9,918 166.3,921.2 175.7,923.8 185.1,925.6 189.8,926.1 193.7,926.2Z"/>
<path fill="#00ffe4" d="M181.7,914.4 187.5,915.1 192.2,915.4 196.9,915.4 204,915 211,914 215.7,913.1 222.8,911.3 227.5,909.9 234.5,907.5 241.6,904.9 255.7,898.7 269.8,891.7 288.9,881.3 298.6,876.6 304.6,874.2 307.4,873.3 312.1,872.1 316.9,871.4 321.6,871.2 326.3,871.5 331,872.2 338,873.9 346.1,876.6 366.2,884 380.4,888.9 396.8,893.9 410.9,897.7 420.3,899.8 427.4,901 436.8,902.1 443.9,902.3 450.9,902.1 460.3,901.2 469.7,899.6 479.1,897.4 488.5,894.8 497.9,892 522.8,883.7 537.9,878.8 552,875 563.8,872.5 563.8,604.5 69.9,604.5 69.9,872.5 81.5,876.6 93.4,881.3 133.4,898.8 149.9,905.5 159.3,908.8 166.3,911 173.4,912.8 181.7,914.4Z"/>
<path fill="#00ffce" d="M180.2,904.9 185.1,905.5 192.2,906 196.9,906 204,905.5 211,904.6 215.7,903.7 227.5,900.8 239.2,897 253.3,891.4 267.5,884.9 289.3,874.2 298,870.4 302.7,868.6 307.4,867.2 312.1,866.1 316.9,865.4 321.6,865.2 326.3,865.4 331,866 338,867.4 345.4,869.5 370.9,877.6 385.1,881.8 403.9,886.9 415.6,889.6 422.7,891 429.7,892.1 436.8,892.8 443.9,893.1 450.9,892.9 460.3,892.1 469.7,890.7 479.1,888.8 488.5,886.5 497.9,883.9 540.3,871.6 552,868.6 563.8,866.2 563.8,604.5 69.9,604.5 69.9,866.7 79.3,869.6 92,874.2 103.9,878.9 133.4,891.1 149.9,897.2 156.9,899.5 166.3,902.2 173.4,903.8 180.2,904.9Z"/>
<path fill="#00ffb8" d="M172.9,895.5 178.1,896.3 185.1,897.1 192.2,897.4 196.9,897.4 201.6,897.1 208.7,896.4 215.7,895.3 222.8,893.8 229.8,891.9 236.9,889.8 251,884.7 262.8,879.9 288.6,868.4 298,864.7 302.7,863.1 307.4,861.8 312.1,860.8 316.9,860.2 321.6,859.9 326.3,860.1 331,860.5 338,861.7 347.4,863.9 385.1,874.1 408.6,879.7 418,881.6 427.4,883.1 436.8,884 443.9,884.3 453.3,884.1 462.7,883.2 472.1,881.9 481.5,880.2 500.3,876 544.1,864.7 554.4,862.4 563.8,860.6 563.8,604.5 69.9,604.5 69.9,861.5 80.9,864.7 93.4,869 131,883.3 145.2,888.2 159.3,892.5 166.3,894.2 172.9,895.5Z"/>
<path fill="#00ffa3" d="M176.9,888.4 182.8,889 189.8,889.4 194.6,889.4 201.6,889.1 206.3,888.7 213.4,887.8 225.1,885.5 236.9,882.3 251,877.6 262.8,873.1 286.3,863.6 296,860 302.7,857.9 307.4,856.7 312.1,855.8 316.9,855.2 321.6,854.9 326.3,855 331,855.3 338,856.2 349.8,858.5 389.8,868 410.9,872.4 420.3,874 429.7,875.2 439.1,875.9 446.2,876 453.3,875.8 462.7,875.1 472.1,874 483.8,872.2 502.7,868.5 545,859 563.8,855.2 563.8,604.5 69.9,604.5 69.9,856.7 79.3,859.1 91.1,862.7 131,876.8 147.5,882.1 156.9,884.6 164,886.2 171,887.5 176.9,888.4Z"/>
<path fill="#00ff8d" d="M179.1,881.3 189.8,881.9 194.6,881.9 201.6,881.6 213.4,880.4 220.4,879.2 227.5,877.7 236.9,875.3 248.6,871.6 260.4,867.5 286.3,857.9 295.7,854.8 302.7,852.8 307.4,851.7 312.1,850.9 316.9,850.3 321.6,850 328.6,850 333.3,850.3 340.4,851.1 352.1,853.1 394.5,861.9 413.3,865.3 422.7,866.7 429.7,867.4 439.1,868 446.2,868.1 455.6,867.9 465,867.2 476.8,865.9 488.5,864.2 509.7,860.5 548.3,852.9 563.8,850 563.8,604.5 69.9,604.5 69.9,851.9 79.3,854.1 91.1,857.5 131,870.6 147.5,875.4 156.9,877.7 164,879.2 171,880.3 179.1,881.3Z"/>
<path fill="#00ff77" d="M178.4,874.2 189.8,874.8 201.6,874.5 213.4,873.3 225.1,871.3 236.9,868.6 246.3,865.8 258.1,862 283.9,853 295.7,849.4 300.4,848.2 307.4,846.6 312.1,845.8 319.2,845 323.9,844.8 331,844.9 342.7,845.9 358,848.2 394.5,855 413.3,858.1 422.7,859.3 432.1,860.2 439.1,860.6 446.2,860.7 455.6,860.5 467.4,859.7 479.1,858.5 490.9,857 514.4,853.4 563.8,844.8 563.8,604.5 69.9,604.5 69.9,847 79.3,849.1 93.6,852.9 128.7,863.7 145.2,868.4 154.6,870.6 161.6,872 171,873.4 178.4,874.2Z"/>
<path fill="#00ff62" d="M170.9,867.1 178.1,867.8 185.1,868.3 196.9,868.3 208.7,867.6 215.7,866.8 222.8,865.7 232.2,863.8 243.9,860.8 258.1,856.4 282.9,848.2 295.7,844.4 307.4,841.7 312.1,840.9 319.2,840.1 323.9,839.8 331,839.8 338,840.1 345.1,840.7 361.5,843 396.8,849.2 413.3,851.7 429.7,853.4 439.1,853.9 446.2,854 455.6,853.8 465,853.3 476.8,852.3 488.5,851 516.8,847.2 563.8,839.9 563.8,604.5 69.9,604.5 69.9,842.4 81.7,844.9 93.4,847.8 131,858.7 142.8,861.9 156.9,864.9 164,866.2 170.9,867.1Z"/>
<path fill="#00ff4c" d="M182,862.4 194.6,862.7 206.3,862.3 218.1,861.1 229.8,859.1 239.2,857 248.6,854.4 283.3,843.4 295.7,839.9 302.7,838.2 309.8,836.8 316.9,835.8 321.6,835.3 328.6,835 335.7,835.1 342.7,835.5 349.8,836.1 363.9,838 396.8,843.6 410.9,845.7 420.3,846.7 429.7,847.5 439.1,847.9 446.2,848 455.6,847.8 465,847.3 476.8,846.4 488.5,845.3 514.4,842.1 563.8,835.3 563.8,604.5 69.9,604.5 69.9,629.7 77,629.9 86.4,630.6 95.8,631.7 102.8,632.9 109.9,634.5 114.6,635.8 120.2,637.6 126.1,640 130.6,642.4 134.3,644.7 137.4,647.1 139.6,649.4 141.5,651.8 143,654.2 144.7,658.9 145,661.3 144.9,663.6 144.3,666 141.5,668.4 137.7,670.7 135.8,671.6 132,673.1 124.9,675.5 115.9,677.8 104.9,680.2 100.5,681 84,683.2 77,683.8 69.9,684.2 69.9,838.2 79.3,840 91.1,842.7 131,853.6 147.5,857.6 156.9,859.4 166.3,860.9 173.4,861.7 182,862.4Z"/>
<path fill="#00ff36" d="M164.3,855.3 173.4,856.3 180.4,856.9 194.6,857.3 204,857.2 211,856.7 218.1,856 225.1,855 234.5,853.3 246.3,850.4 258.1,846.9 283.9,838.8 298,834.9 305.1,833.3 312.1,832 316.9,831.3 323.9,830.7 331,830.4 338,830.4 345.1,830.8 352.1,831.3 366.2,833.2 396.8,838.3 410.9,840.2 427.4,841.7 443.9,842.2 453.3,842.1 462.7,841.8 474.4,841 486.2,840 509.7,837.5 563.8,830.9 563.8,604.5 69.9,604.5 69.9,614.4 88.7,615.2 106.3,616.3 121.6,617.7 135.8,619.3 148.5,621.1 164,623.4 196.9,629.1 225.1,633.3 234.5,635 239.2,636.1 244.6,637.6 251,640 256.4,642.4 260.6,644.7 264.2,647.1 267.3,649.4 269.8,651.8 272,654.2 273.6,656.5 274.7,658.9 275.5,661.3 275.1,663.6 272.5,666 267.9,668.4 252.1,673.1 241.3,675.5 234.5,676.5 225.1,677.7 194.6,680.7 182.8,682 102.8,693 84,695.1 69.9,696.4 69.9,834.2 79.3,835.8 91.1,838.4 128.7,848 142.8,851.4 154.6,853.8 164.3,855.3ZM331,666.1 329,666 326.3,665.5 323.9,665 319.8,663.6 318.2,661.3 320.7,658.9 323.9,657.8 328.6,656.7 335.7,656 340.4,656.1 345.2,656.5 349.8,657.6 353.7,658.9 356.4,661.3 356.4,663.6 349.8,665.1 344.2,666 338,666.2 331,666.1Z"/>
<path fill="#00ff21" d="M168.6,850.5 182.8,851.7 196.9,852.1 211,851.6 218.1,850.9 225.1,850 235.5,848.2 246.3,845.6 258.1,842.2 283.9,834.3 298,830.5 305.1,828.9 312.1,827.5 319.2,826.6 326.3,825.9 338,825.6 345.1,825.9 352.1,826.3 366.2,828 394.5,832.6 408.6,834.5 425,835.9 434.4,836.4 443.9,836.5 462.7,836 483.8,834.6 502.7,832.8 545,828.3 563.8,826.4 563.8,682.1 554.4,681.9 542.6,682.4 530.9,683.2 502.7,685.6 486.2,686.8 474.4,687.4 441.5,688.6 401.5,691.2 382.7,692 366.2,692.2 349.8,692.1 328.6,691.5 291,689.8 279.2,689.7 269.8,690 260.4,690.7 222.8,693.8 164,697.4 145.2,698.8 121.6,701.1 69.9,706.8 69.9,830 81.7,832 93.4,834.5 130,843.4 142.8,846.3 156.9,848.9 168.6,850.5ZM535.1,623.4 552,624.5 563.8,624.9 563.8,604.5 90.6,604.5 175.7,607.9 194.6,608.9 227.5,611.2 255.7,612.5 295.7,613.3 312.1,613.3 340.4,613 354.5,613.2 366.2,614 394.5,616.8 406.2,617.6 418,618.2 448.6,619.1 488.5,620.7 507.4,621.7 535.1,623.4Z"/>
<path fill="#00ff0b" d="M174.7,845.8 189.8,846.7 204,846.6 216.1,845.8 222.8,845 229.8,844 239.2,842.1 251,839.2 286.3,828.8 300.4,825.1 307.4,823.6 314.5,822.4 321.6,821.5 328.6,820.9 340.4,820.6 347.4,820.9 354.5,821.3 368.6,823 394.5,827 408.6,828.8 425,830.1 441.5,830.5 458,830.2 476.8,829.2 497.9,827.5 542.6,823.4 563.8,821.8 563.8,701.5 545,701.3 521.5,701.8 497.9,702.8 429.7,706.5 410.9,707.2 392.1,707.6 370.9,707.5 345.1,706.9 326.3,706.1 295.7,704.4 283.9,704 272.2,703.8 260.4,704.1 201.6,707 159.3,708.5 140.5,709.5 126.3,710.6 109.9,712.3 69.9,717.1 69.9,825.5 81.7,827.4 93.4,829.7 131.9,838.7 145.2,841.5 159.3,844 174.7,845.8Z"/>
<path fill="#0bff00" d="M161.8,838.7 171,839.8 178.1,840.5 192.2,841.1 199.3,841 206.3,840.7 213.4,840.1 222.8,839 236.9,836.4 247.3,834 256.1,831.6 286.3,823 300.4,819.5 307.4,818 314.5,816.9 321.6,816 328.6,815.4 340.4,815.1 354.5,815.7 368.6,817.1 396.8,820.9 408.6,822.2 425,823.5 439.1,823.9 450.9,823.8 465,823.2 533.2,818.5 563.8,816.8 563.8,718.1 537.9,717.8 509.7,718.4 483.8,719.5 427.4,722.6 413.3,723 401.5,723.2 380.4,722.8 326.3,720.8 279.2,718.2 260.4,717.6 234.5,717.6 166.3,718.8 145.2,719.6 124,721.3 98.1,724.5 69.9,728.7 69.9,820 77,821 88.7,823.1 100.5,825.6 140.5,834.9 152.2,837.2 161.8,838.7Z"/>
<path fill="#21ff00" d="M170.3,834 182.8,835 194.6,835.2 206.3,834.5 218.1,833.1 227.5,831.3 239.2,828.7 283.9,817.1 298,813.8 305.1,812.4 312.1,811.2 319.2,810.4 326.3,809.9 340.4,809.7 355.5,810.3 373.3,811.8 418,816.2 429.7,817 439.1,817.3 448.6,817.2 458,816.8 488.5,814.7 512.1,813.5 537.9,812.5 563.8,811.8 563.8,730.1 540.3,730.5 490.9,732.6 450.9,733.6 413.3,735.6 399.2,735.9 387.4,735.5 363.9,734 354.5,733.6 316.9,733.3 302.7,732.8 286.3,731.6 253.3,728.5 234.5,727.4 211,727 175.7,727.2 161.6,727.6 149.9,728.2 138.1,729.2 126.3,730.4 114.6,732 100.5,734.1 86.4,736.6 69.9,739.8 69.9,813.5 81.7,815.5 93.4,817.9 133.4,827.3 145.2,829.8 159.3,832.4 170.3,834Z"/>
<path fill="#36ff00" d="M181.9,829.2 189.8,829.5 199.3,829.1 206.3,828.4 215.7,827 227.3,824.5 260.4,816.2 291,809 305.1,806.4 312.1,805.4 319.2,804.8 326.3,804.5 333.3,804.5 352.1,805.1 392.1,807.4 401.5,808.1 425,810.4 439.1,811.1 446.2,811.1 453.3,810.8 483.8,808.3 500.3,807.6 519.1,807.3 563.8,807.2 563.8,739.1 545,739.9 509.7,742.5 495.6,743.2 481.5,743.5 458,743 443.9,743.1 432.1,743.7 410.9,745.5 399.2,745.9 389.8,745.5 366.2,743.4 354.5,742.8 342.7,742.8 314.5,743.8 305.1,743.7 298,743.4 291,742.9 283.9,742.1 251,736.9 241.6,735.7 234.5,735 225.1,734.4 213.4,733.9 199.3,733.8 185.1,733.9 171,734.2 156.9,735 145.2,735.9 133.4,737.2 121.6,738.8 107.5,741.1 93.4,743.8 81.5,746.4 69.9,749.4 69.9,806.9 100.5,813.7 135.8,821.8 149.9,824.8 166.3,827.7 173.4,828.5 181.9,829.2Z"/>
<path fill="#4cff00" d="M169.1,822.1 180.4,823.4 189.8,823.7 196.9,823.4 206.3,822.3 211,821.4 218.4,819.8 241.6,813.3 251,810.9 279.2,804.7 291,802.2 300.4,800.6 307.4,799.6 314.5,799 326.3,798.8 361.5,800.5 396.8,800.9 406.2,801.6 427.4,804.1 439.1,804.8 446.2,804.7 453.3,804.4 481.5,801.5 495.6,800.7 512.1,800.9 563.8,802.6 563.8,747.4 545.5,748.8 512.1,752.7 497.9,754 490.9,754.2 483.8,754.1 455.6,752.1 443.9,751.9 432.1,752.6 408.6,755.3 399.2,755.8 389.8,755.2 366.2,752.3 359.2,751.7 354.5,751.6 347.4,751.7 340.4,752.1 319.2,754 312.1,754.5 302.7,754.6 295.7,754.2 288.6,753.4 281.6,752.2 274.5,750.7 253.3,745.4 246.3,743.9 239.2,742.7 232.2,741.7 225.1,741 208.7,740.1 196.9,739.9 185.1,740 173.4,740.4 161.6,741.1 149.9,742.2 138.1,743.6 126.3,745.4 114.6,747.4 100.5,750.4 88.7,753.3 79.3,756.1 69.9,759.4 69.9,799.5 73.9,800.9 82,803.2 91.4,805.6 111.8,810.3 147.5,818.2 159.3,820.5 169.1,822.1Z"/>
<path fill="#62ff00" d="M181.5,817.4 187.5,817.6 194.6,817.4 199.3,817 206.3,815.8 211,814.7 218.1,812.8 241.6,804.9 253.3,801.7 262.8,799.5 295.7,792.8 302.7,791.8 309.8,791.2 314.5,791.1 319.2,791.3 326.3,791.8 345.1,793.8 352.1,794.3 359.2,794.6 370.9,794.3 392.1,792.4 399.2,792.3 406.2,792.9 424.3,796.1 429.7,796.9 436.8,797.5 441.5,797.7 448.6,797.4 455.6,796.7 460.3,796.1 479.1,792.8 483.8,792.2 490.9,791.8 497.9,791.8 509.7,792.6 541.9,796.1 563.8,797.6 563.8,755.9 554.4,757 545.9,758.3 533.1,760.6 507.4,766 500.3,767.1 495.6,767.5 488.5,767.6 483.8,767.2 479.1,766.6 465,763.8 458,762.6 450.9,761.8 443.9,761.4 436.8,761.7 429.7,762.6 406.2,767.3 401.5,767.8 396.8,767.8 389.8,766.9 368.6,762.5 361.5,761.5 354.5,761.2 347.4,761.5 340.4,762.4 333.3,763.6 316.9,767 309.8,767.9 305.1,768.1 300.4,767.9 295.7,767.4 291,766.7 286.3,765.7 281.6,764.4 274.5,762.1 258.1,755.9 246.3,752.1 241.6,750.8 234.5,749.2 227.5,748 220.4,747.2 211,746.4 201.6,746 192.2,745.9 180.4,746.2 171,746.8 159.3,747.8 149.9,748.9 138.1,750.6 128.7,752.3 119.3,754.2 111.7,755.9 102.7,758.3 94.9,760.6 88.2,763 82.3,765.4 77.5,767.7 73.8,770.1 69.9,773.5 69.9,788.6 73.5,791.4 77.8,793.8 79.3,794.4 83.6,796.1 88.7,797.8 99.3,800.9 119.1,805.6 159.3,814.3 171,816.3 181.5,817.4Z"/>
<path fill="#77ff00" d="M174.6,810.3 180.4,810.9 187.5,811.2 192.2,811.1 196.9,810.6 201.6,809.9 206.3,808.8 211,807.4 216.3,805.6 222.8,802.9 232.3,798.5 255.3,786.7 259.1,784.3 261.6,781.9 262.3,779.6 262.1,777.2 261.2,774.8 259.6,772.5 257.5,770.1 254.9,767.7 251.7,765.4 247.9,763 243.2,760.6 237.1,758.3 234.5,757.5 229.8,756.1 225.1,755.1 215.6,753.5 204,752.5 192.2,752.2 180.4,752.6 168.5,753.5 154.6,755.4 140.5,757.8 127.6,760.6 116.9,763.6 111.3,765.4 104.8,767.7 99.6,770.1 95.8,772.5 93.1,774.8 91.4,777.2 90.3,779.6 89.9,781.9 90.2,784.3 91.3,786.7 93.6,789 97.7,791.4 103.8,793.8 111.7,796.1 120.7,798.5 161.3,808 168.7,809.4 174.6,810.3ZM562.6,791.4 563.8,791.5 563.8,766.2 556.5,767.7 552,769 548.5,770.1 542.4,772.5 537.9,774.8 534.6,777.2 532.6,779.6 531.9,781.9 533.6,784.3 538.6,786.7 547.3,789 554.4,790.2 562.6,791.4ZM348.6,784.3 354.5,785.2 359.2,785.2 361.5,785 365,784.3 367.8,781.9 366.6,779.6 363.9,777.9 362.4,777.2 359.2,776.5 356.8,776.3 354.5,776.4 350.3,777.2 347.4,778.7 346.2,779.6 345.1,781.9 348.6,784.3ZM432.7,784.3 436.8,785.6 439.1,786.1 441.5,786.3 443.9,786.2 448.6,785.3 451.6,784.3 453.8,781.9 452.5,779.6 450.9,778.6 448.2,777.2 443.9,776.4 441.5,776.3 439.1,776.5 436.1,777.2 434.4,778 431.9,779.6 430.7,781.9 432.7,784.3Z"/>
<path fill="#8dff00" d="M175.1,803.2 180.4,803.9 187.5,804.2 192.2,803.9 196.9,803.3 201.6,802.3 208.7,800.2 213.4,798.4 218.1,796.1 222,793.8 225.2,791.4 227.7,789 229.7,786.7 231.3,784.3 233.4,779.6 234.1,777.2 234.5,774.8 234.2,772.5 233,770.1 230.6,767.7 226.7,765.4 220.4,763 215.7,761.9 208.7,760.6 201.6,759.8 194.6,759.5 185.1,759.6 178.1,760 168.7,761.1 159.3,762.6 152.2,764.2 140.5,767.3 131.3,770.1 125.4,772.5 121,774.8 118,777.2 116.3,779.6 115.7,781.9 116.6,784.3 119,786.7 121.6,788.1 123.4,789 129.7,791.4 154.2,798.5 166.3,801.6 175.1,803.2Z"/>
<path fill="#a3ff00" d="M175.6,796.1 180.4,796.8 185.1,797.1 189.8,797.1 194.6,796.6 197.3,796.1 201.6,795 205.1,793.8 208.7,792 213.1,789 215.4,786.7 217,784.3 217.9,781.9 218.2,779.6 218,777.2 217.1,774.8 215.1,772.5 213.4,771.3 211.1,770.1 208.7,769.2 204,768 199.3,767.2 194.6,766.8 189.8,766.7 180.4,767.2 175.5,767.7 168.7,768.9 163,770.1 156.9,771.8 148.6,774.8 144.2,777.2 141.5,779.6 140.5,781.9 141.9,784.3 145.4,786.7 150.5,789 157.1,791.4 166.3,794.1 175.6,796.1Z"/>
<path fill="#b8ff00" d="M177.7,789 182.8,789.7 187.5,789.8 192.2,789.3 194.6,788.7 199.2,786.7 201.9,784.3 202.9,781.9 202.4,779.6 200.2,777.2 196.9,775.7 194.1,774.8 189.8,774.3 185.1,774.3 179,774.8 173.4,776.1 169.7,777.2 165.4,779.6 164,781.7 163.8,781.9 165.3,784.3 169.5,786.7 173.4,787.9 177.7,789Z"/>
<path fill="none" stroke="#3c3c3c" stroke-width="1.05" stroke-linejoin="round" d="M563.8,1013.8 553.5,1018.5M69.9,880.3 72.9,881.3 77,882.9 79.1,883.7 90.3,888.4 100.8,893.1 124,903.9 135.8,909.3 145.2,913.3 156.9,918 164,920.5 168.7,921.9 173.4,923.2 178.1,924.3 182.8,925.2 187.5,925.8 194.6,926.3 199.3,926.2 204,925.8 208.7,925.2 213.4,924.3 218.1,923.2 222.8,921.9 227.5,920.5 234.5,918 239.2,916.1 246.3,913.1 251,911 260.4,906.3 269.8,901.3 291.9,888.4 296.4,886 300.4,884.1 307.4,881.3 312.1,880.1 316.9,879.3 319.2,879.1 321.6,879.1 326.3,879.5 331,880.4 335.7,881.5 342.7,883.9 348.1,886 361.5,891.7 368.6,894.5 380.4,898.9 387.4,901.3 394.5,903.6 403.9,906.3 413.3,908.6 422.7,910.4 432.1,911.6 436.8,911.9 441.5,912.1 448.6,911.9 453.3,911.5 458,911 467.4,909.5 477.1,907.3 485.5,904.9 493.2,902.5 506.5,897.8 525.9,890.8 539.9,886 547.3,883.8 552,882.6 557.6,881.3 563.8,880.1M69.9,847 79.3,849.1 88.7,851.5 101.6,855.3 133.4,865.1 142.8,867.7 152.2,870.1 156.9,871.1 164,872.4 173.4,873.7 182.8,874.5 192.2,874.8 201.6,874.5 211,873.6 220.4,872.2 229.8,870.3 239.2,867.9 251,864.4 260.4,861.2 283.9,853 295.7,849.4 300.4,848.2 307.4,846.6 312.1,845.8 319.2,845 323.9,844.8 331,844.9 335.7,845.2 342.7,845.9 349.8,846.8 358,848.2 394.5,855 403.9,856.7 413.3,858.1 422.7,859.3 432.1,860.2 439.1,860.6 446.2,860.7 455.6,860.5 467.4,859.7 479.1,858.5 490.9,857 514.4,853.4 563.8,844.8M69.9,820 79.3,821.4 91.1,823.6 100.5,825.6 135.8,833.8 145.2,835.8 154.6,837.6 164,839 175.7,840.3 185.1,840.9 194.6,841.1 204,840.8 213.4,840.1 222.8,839 232.2,837.4 239.2,835.9 248.6,833.6 256.1,831.6 286.3,823 298,820 305.1,818.5 312.1,817.2 319.2,816.2 326.3,815.6 333.3,815.2 340.4,815.1 347.4,815.3 354.5,815.7 361.5,816.3 368.6,817.1 396.8,820.9 408.6,822.2 418,823 425,823.5 439.1,823.9 450.9,823.8 465,823.2 481.5,822.1 533.2,818.5 549.7,817.5 563.8,816.8M563.8,718.1 552,717.9 537.9,717.8 523.8,718 509.7,718.4 483.8,719.5 427.4,722.6 413.3,723 401.5,723.2 392.1,723.1 380.4,722.8 326.3,720.8 314.5,720.3 279.2,718.2 260.4,717.6 248.6,717.5 234.5,717.6 196.9,718.3 166.3,718.8 154.6,719.1 145.2,719.6 135.8,720.3 124,721.3 109.9,722.9 98.1,724.5 84,726.5 69.9,728.7M175.1,803.2 180.4,803.9 187.5,804.2 192.2,803.9 196.9,803.3 201.6,802.3 208.7,800.2 213.4,798.4 218.1,796.1 222,793.8 225.2,791.4 227.7,789 229.7,786.7 231.3,784.3 232.5,781.9 233.4,779.6 234.1,777.2 234.5,774.8 234.2,772.5 233,770.1 230.6,767.7 226.7,765.4 222.8,763.8 220.4,763 215.7,761.9 208.7,760.6 201.6,759.8 194.6,759.5 185.1,759.6 178.1,760 168.7,761.1 159.3,762.6 152.2,764.2 140.5,767.3 131.3,770.1 125.4,772.5 121,774.8 118,777.2 116.3,779.6 115.7,781.9 116.6,784.3 119,786.7 121.6,788.1 123.4,789 129.7,791.4 137.6,793.8 154.2,798.5 161.6,800.5 166.3,801.6 171,802.6 175.1,803.2"/>
<rect x="69.9" y="604.5" width="493.9" height="414" fill="none" stroke="#000" stroke-width="2.1"/>
<rect x="69.3" y="777" width="495.3" height="9.6" fill="#808080"/>
<text x="61.3" y="1023.6" text-anchor="end" font-size="16.7">0</text>
<text x="61.3" y="964.5" text-anchor="end" font-size="16.7">100</text>
<text x="61.3" y="905.3" text-anchor="end" font-size="16.7">200</text>
<text x="61.3" y="846.2" text-anchor="end" font-size="16.7">300</text>
<text x="61.3" y="787" text-anchor="end" font-size="16.7">400</text>
<text x="61.3" y="727.9" text-anchor="end" font-size="16.7">500</text>
<text x="61.3" y="668.7" text-anchor="end" font-size="16.7">600</text>
<text x="61.3" y="609.6" text-anchor="end" font-size="16.7">700</text>
<text x="69.9" y="1041" text-anchor="middle" font-size="16.7">0</text>
<text x="152.2" y="1041" text-anchor="middle" font-size="16.7">140</text>
<text x="234.5" y="1041" text-anchor="middle" font-size="16.7">280</text>
<text x="316.9" y="1041" text-anchor="middle" font-size="16.7">420</text>
<text x="399.2" y="1041" text-anchor="middle" font-size="16.7">560</text>
<text x="481.5" y="1041" text-anchor="middle" font-size="16.7">700</text>
<text x="563.8" y="1041" text-anchor="middle" font-size="16.7">840</text>
<text x="316.6" y="1072.4" text-anchor="middle" font-size="20.45">The horizontal direction/mm</text>
<text transform="translate(15,812.2) rotate(-90)" text-anchor="middle" font-size="20.9">The vertical direction/mm</text>
<text x="241.2" y="1102.4" font-size="27.9">b. 2 h for Case VI</text>
<rect x="584.3" y="604.50" width="33.7" height="414.00" fill="#ff0000"/>
<rect x="584.3" y="613.12" width="33.7" height="405.38" fill="#ff1600"/>
<rect x="584.3" y="621.75" width="33.7" height="396.75" fill="#ff2b00"/>
<rect x="584.3" y="630.38" width="33.7" height="388.12" fill="#ff4100"/>
<rect x="584.3" y="639.00" width="33.7" height="379.50" fill="#ff5700"/>
<rect x="584.3" y="647.62" width="33.7" height="370.88" fill="#ff6d00"/>
<rect x="584.3" y="656.25" width="33.7" height="362.25" fill="#ff8200"/>
<rect x="584.3" y="664.88" width="33.7" height="353.62" fill="#ff9800"/>
<rect x="584.3" y="673.50" width="33.7" height="345.00" fill="#ffae00"/>
<rect x="584.3" y="682.12" width="33.7" height="336.38" fill="#ffc300"/>
<rect x="584.3" y="690.75" width="33.7" height="327.75" fill="#ffd900"/>
<rect x="584.3" y="699.38" width="33.7" height="319.12" fill="#ffef00"/>
<rect x="584.3" y="708.00" width="33.7" height="310.50" fill="#faff00"/>
<rect x="584.3" y="716.62" width="33.7" height="301.88" fill="#e4ff00"/>
<rect x="584.3" y="725.25" width="33.7" height="293.25" fill="#ceff00"/>
<rect x="584.3" y="733.88" width="33.7" height="284.62" fill="#b8ff00"/>
<rect x="584.3" y="742.50" width="33.7" height="276.00" fill="#a3ff00"/>
<rect x="584.3" y="751.12" width="33.7" height="267.38" fill="#8dff00"/>
<rect x="584.3" y="759.75" width="33.7" height="258.75" fill="#77ff00"/>
<rect x="584.3" y="768.38" width="33.7" height="250.12" fill="#62ff00"/>
<rect x="584.3" y="777.00" width="33.7" height="241.50" fill="#4cff00"/>
<rect x="584.3" y="785.62" width="33.7" height="232.88" fill="#36ff00"/>
<rect x="584.3" y="794.25" width="33.7" height="224.25" fill="#21ff00"/>
<rect x="584.3" y="802.88" width="33.7" height="215.62" fill="#0bff00"/>
<rect x="584.3" y="811.50" width="33.7" height="207.00" fill="#00ff0b"/>
<rect x="584.3" y="820.12" width="33.7" height="198.38" fill="#00ff21"/>
<rect x="584.3" y="828.75" width="33.7" height="189.75" fill="#00ff36"/>
<rect x="584.3" y="837.38" width="33.7" height="181.12" fill="#00ff4c"/>
<rect x="584.3" y="846.00" width="33.7" height="172.50" fill="#00ff62"/>
<rect x="584.3" y="854.62" width="33.7" height="163.88" fill="#00ff77"/>
<rect x="584.3" y="863.25" width="33.7" height="155.25" fill="#00ff8d"/>
<rect x="584.3" y="871.88" width="33.7" height="146.62" fill="#00ffa3"/>
<rect x="584.3" y="880.50" width="33.7" height="138.00" fill="#00ffb8"/>
<rect x="584.3" y="889.12" width="33.7" height="129.38" fill="#00ffce"/>
<rect x="584.3" y="897.75" width="33.7" height="120.75" fill="#00ffe4"/>
<rect x="584.3" y="906.38" width="33.7" height="112.12" fill="#00fffa"/>
<rect x="584.3" y="915.00" width="33.7" height="103.50" fill="#00efff"/>
<rect x="584.3" y="923.62" width="33.7" height="94.88" fill="#00d9ff"/>
<rect x="584.3" y="932.25" width="33.7" height="86.25" fill="#00c3ff"/>
<rect x="584.3" y="940.88" width="33.7" height="77.62" fill="#00aeff"/>
<rect x="584.3" y="949.50" width="33.7" height="69.00" fill="#0098ff"/>
<rect x="584.3" y="958.12" width="33.7" height="60.38" fill="#0082ff"/>
<rect x="584.3" y="966.75" width="33.7" height="51.75" fill="#006dff"/>
<rect x="584.3" y="975.38" width="33.7" height="43.12" fill="#0057ff"/>
<rect x="584.3" y="984.00" width="33.7" height="34.50" fill="#0041ff"/>
<rect x="584.3" y="992.62" width="33.7" height="25.88" fill="#002bff"/>
<rect x="584.3" y="1001.25" width="33.7" height="17.25" fill="#0016ff"/>
<rect x="584.3" y="1009.88" width="33.7" height="8.62" fill="#0000ff"/>
<rect x="584.7" y="604.5" width="33.3" height="414" fill="none" stroke="#000" stroke-width="1"/>
<line x1="618" y1="604" x2="618" y2="1019" stroke="#000" stroke-width="1.6"/>
<line x1="618" y1="1018.5" x2="625.2" y2="1018.5" stroke="#000" stroke-width="1.3"/>
<text x="631.7" y="1024.1" font-size="16.7">18.00</text>
<line x1="618" y1="966.8" x2="625.2" y2="966.8" stroke="#000" stroke-width="1.3"/>
<text x="631.7" y="972.4" font-size="16.7">19.00</text>
<line x1="618" y1="915" x2="625.2" y2="915" stroke="#000" stroke-width="1.3"/>
<text x="631.7" y="920.6" font-size="16.7">20.00</text>
<line x1="618" y1="863.2" x2="625.2" y2="863.2" stroke="#000" stroke-width="1.3"/>
<text x="631.7" y="868.9" font-size="16.7">21.00</text>
<line x1="618" y1="811.5" x2="625.2" y2="811.5" stroke="#000" stroke-width="1.3"/>
<text x="631.7" y="817.1" font-size="16.7">22.00</text>
<line x1="618" y1="759.8" x2="625.2" y2="759.8" stroke="#000" stroke-width="1.3"/>
<text x="631.7" y="765.4" font-size="16.7">23.00</text>
<line x1="618" y1="708" x2="625.2" y2="708" stroke="#000" stroke-width="1.3"/>
<text x="631.7" y="713.6" font-size="16.7">24.00</text>
<line x1="618" y1="656.2" x2="625.2" y2="656.2" stroke="#000" stroke-width="1.3"/>
<text x="631.7" y="661.9" font-size="16.7">25.00</text>
<line x1="618" y1="604.5" x2="625.2" y2="604.5" stroke="#000" stroke-width="1.3"/>
<text x="631.7" y="610.1" font-size="16.7">26.00</text>
<text x="521.8" y="589.2" font-size="20.5">The temperature/<tspan dx="0">°</tspan><tspan dx="-1.6">C</tspan></text>
<text x="479" y="738.5" font-size="20.5">The pipe</text>
<line x1="477" y1="749.9" x2="444.8" y2="768.7" stroke="#000" stroke-width="1.45"/>
<path d="M434.4,774.7L443.1,765.7L446.5,771.6Z" fill="#000"/>
<rect x="72.8" y="1180.7" width="492.1" height="413.9" fill="#00aeff"/>
<path fill="#00c3ff" d="M72.8,1594.6 564.9,1594.6 564.9,1180.7 72.8,1180.7 72.8,1517.1 74.5,1521.3 75,1526 73.9,1530.7 72.8,1532.9 72.8,1594.6Z"/>
<path fill="#00d9ff" d="M72.8,1594.6 564.9,1594.6 564.9,1180.7 72.8,1180.7 72.8,1482.9 76.1,1483.4 84.6,1485.8 86.9,1487.1 96.2,1491.2 103.3,1493.7 115,1496.8 122,1499.1 130.8,1502.4 133.7,1503.6 137,1504.7 140.8,1506.4 143.2,1507.1 147.8,1509 154.8,1511.6 164.2,1514.5 175.9,1517.4 180.6,1518.2 192.3,1519.5 199.3,1519.8 206.4,1519.5 218.1,1518.3 222.8,1517.5 232.1,1515.3 241.5,1512.4 250.9,1508.9 255,1507.1 257.9,1506.1 260.7,1504.7 274.3,1499.4 281.4,1497 293.1,1493.5 297.8,1491.9 311.8,1486.7 314.2,1485.9 316.5,1485.5 321.2,1485.2 323.5,1485.4 326,1485.8 328.2,1486.6 332.9,1488.8 340.2,1492.9 350.9,1500 359.6,1507.1 373.2,1518.9 375.4,1521.3 377.1,1523.6 378.1,1526 378.4,1528.4 377.6,1530.7 376.2,1533.1 373.6,1535.5 369.8,1537.8 365.7,1540 355.1,1544.9 348.7,1547.3 339.9,1549.6 330.6,1551.4 318.8,1553.2 243.9,1562.2 229.8,1563.6 211.1,1565.1 185.3,1566.5 152.5,1567.7 119.7,1568.5 96.2,1568.6 79.8,1569.5 72.8,1569.6 72.8,1594.6Z"/>
<path fill="#00efff" d="M244.2,1594.6 564.9,1594.6 564.9,1563 559.7,1563.9 521.4,1568.6 480.5,1573.2 457.1,1575.4 426.6,1577.5 414.9,1578.6 375.1,1584.6 361,1586.4 344.6,1588.1 323.5,1589.9 279,1591.9 244.2,1594.6ZM435,1511.8 443,1512.7 447.7,1512.9 452.4,1512.8 457.1,1512.5 461.8,1511.9 471.2,1510.1 475.9,1508.9 482.9,1506.7 487.9,1504.7 489.9,1504.1 492.3,1503.2 493.8,1502.4 496.9,1501.3 513.3,1494.3 520.4,1491.5 527.4,1489.2 532.1,1488.2 534.4,1487.9 539.1,1488 541.5,1488.4 546.2,1489.5 549.1,1490.5 553.2,1492.4 555.5,1493.7 560.2,1496.8 564.9,1500.3 564.9,1180.7 72.8,1180.7 72.8,1468.3 79.8,1470.1 100.9,1477 117.3,1481.9 124.4,1484.3 152.5,1495.3 164.2,1499.1 173.6,1501.5 182.9,1503.2 192.3,1504.3 199.3,1504.5 208.7,1504.2 215.7,1503.4 222.8,1502.2 232.1,1499.9 239.2,1497.7 246.2,1495.1 267.3,1486.5 276.7,1483 295.4,1477 307.1,1472.5 311.8,1471 316.5,1469.8 318.8,1469.5 321.2,1469.4 325.9,1469.6 328.2,1469.9 332.9,1470.9 337.6,1472.4 342.3,1474.2 351.7,1478.7 368.1,1487.5 377.4,1492.2 386.8,1496.4 398.5,1501.2 412.6,1506.2 419.6,1508.4 426.6,1510.2 435,1511.8Z"/>
<path fill="#00fffa" d="M535.4,1594.6 564.9,1594.6 564.9,1588.3 548.5,1591.9 535.4,1594.6ZM426.4,1495.3 431.3,1496.1 438.4,1497 445.4,1497.4 452.4,1497.3 459.5,1496.8 464.1,1496.2 471.2,1494.9 478.2,1493.3 487.6,1490.6 499.3,1486.4 511,1481.6 533.9,1471.6 545.3,1466.9 557.9,1462.2 564.9,1460.1 564.9,1180.7 72.8,1180.7 72.8,1456.1 82.2,1457.8 90,1459.8 97.6,1462.2 110.7,1466.9 143.1,1479.9 154.8,1484.1 164.2,1487 173.6,1489.3 182.9,1490.9 190,1491.7 197,1492.1 206.4,1491.8 213.4,1491.1 222.8,1489.5 232.1,1487.3 241.5,1484.6 255.6,1479.5 272,1472.7 290.3,1464.5 296.2,1462.2 302.4,1460 309.5,1458.3 314.2,1457.5 318.8,1457.2 323.5,1457.4 328.2,1458.2 335.2,1459.8 342.3,1462.2 353.1,1466.9 382.1,1480.4 391.5,1484.4 398.5,1487.1 405.6,1489.7 412.6,1491.9 419.6,1493.8 426.4,1495.3Z"/>
<path fill="#00ffe4" d="M437.5,1485.8 443,1486.1 450.1,1486.2 454.8,1486 461.8,1485.4 468.8,1484.5 473.5,1483.6 480.5,1482.1 487.6,1480.2 496.9,1477.2 508.7,1472.8 520.4,1468.1 551.1,1455.1 564.9,1449.8 564.9,1180.7 72.8,1180.7 72.8,1448.7 77.5,1449.3 84.5,1450.5 93.7,1452.7 100.9,1454.9 108.1,1457.4 143.1,1470.9 152.5,1474.1 161.8,1476.9 171.2,1479.2 180.6,1480.9 190,1481.9 197,1482.2 204,1482 213.4,1481.1 222.8,1479.6 232.1,1477.4 243.9,1474.1 255.6,1470.2 267.3,1465.7 290.7,1455.8 299.5,1452.7 304.8,1451.3 311.8,1450.1 318.8,1449.7 323.5,1450 328.2,1450.6 332.9,1451.5 337.6,1452.7 344.8,1455.1 356.9,1459.8 386.8,1472.5 396.2,1476.1 405.6,1479.3 414.9,1482 422,1483.6 429,1484.8 437.5,1485.8Z"/>
<path fill="#00ffce" d="M435.7,1476.3 440.7,1476.7 447.7,1476.9 459.4,1476.4 471.2,1475 478.2,1473.7 485.2,1472 496.9,1468.7 506.3,1465.6 518,1461.3 546,1450.3 559,1445.6 564.9,1443.7 564.9,1180.7 72.8,1180.7 72.8,1443 79.8,1443.8 86.9,1445 91.5,1446 99.3,1448 110.3,1451.5 143.1,1463.3 152.5,1466.3 161.8,1468.9 171.2,1471 178.2,1472.2 187.6,1473.2 194.7,1473.5 201.7,1473.4 211.1,1472.6 220.4,1471.2 229.8,1469.3 241.5,1466.3 255.6,1462 267.3,1457.9 288.4,1450 297.8,1447 304.8,1445.3 311.8,1444.3 318.8,1444 323.5,1444.2 328.2,1444.7 333.6,1445.6 339.9,1447.1 347,1449.1 357.2,1452.7 391.5,1466 398.5,1468.4 405.6,1470.6 414.9,1473 422,1474.5 429,1475.6 435.7,1476.3Z"/>
<path fill="#00ffb8" d="M425.6,1466.9 431.3,1467.6 438.4,1468.2 445.4,1468.5 452.4,1468.4 459.4,1468.1 466.5,1467.4 473.5,1466.4 480.5,1465.2 492.3,1462.4 506.3,1458.3 518,1454.3 549.5,1443.2 564.9,1438.5 564.9,1180.7 72.8,1180.7 72.8,1438.1 79.8,1438.6 86.9,1439.6 93.9,1441 100.9,1442.8 110.5,1445.6 143.1,1456.3 152.5,1459.1 161.8,1461.5 171.2,1463.4 178.2,1464.4 187.6,1465.3 194.7,1465.6 204,1465.3 213.4,1464.3 222.8,1462.8 232.1,1460.8 241.5,1458.5 250.9,1455.9 265,1451.7 288.4,1444.1 295.4,1442.1 300.8,1440.9 307.1,1439.7 314.2,1439 318.8,1438.9 325.9,1439.2 335.3,1440.5 339.9,1441.4 347.1,1443.2 355,1445.6 362.1,1448 386.8,1456.8 398.5,1460.7 405.6,1462.8 412.6,1464.5 419.6,1465.9 425.6,1466.9Z"/>
<path fill="#00ffa3" d="M430.3,1459.8 436,1460.3 443,1460.6 450.1,1460.7 457.1,1460.5 468.8,1459.5 475.9,1458.5 482.9,1457.2 494.6,1454.6 506.3,1451.4 547.5,1438.5 564.9,1433.6 564.9,1180.7 72.8,1180.7 72.8,1433.3 79.8,1433.8 86.9,1434.7 93.9,1435.9 100.9,1437.4 113.5,1440.9 145.4,1450.5 154.8,1452.9 161.8,1454.5 171.2,1456.2 178.2,1457.2 187.6,1457.9 194.7,1458.1 201.7,1457.9 211.1,1457 220.4,1455.7 229.8,1453.9 239.2,1451.8 250.9,1448.9 288.7,1438.5 300.1,1436 307.1,1434.9 314.2,1434.3 318.8,1434.1 325.9,1434.3 330.6,1434.8 337.6,1435.8 349.3,1438.3 363.4,1442.3 389.2,1450.8 400.9,1454.3 407.9,1456 414.9,1457.5 422,1458.7 430.3,1459.8Z"/>
<path fill="#00ff8d" d="M433,1452.7 445.4,1453.3 457.1,1453.1 468.8,1452.2 475.9,1451.3 482.9,1450.1 492.3,1448.3 504,1445.5 515.7,1442.3 546.2,1433.6 555.5,1431.1 564.9,1428.9 564.9,1180.7 72.8,1180.7 72.8,1428.7 79.8,1429.1 86.9,1429.8 93.9,1430.9 100.9,1432.3 115,1435.7 145.4,1444.1 154.8,1446.4 161.8,1447.8 171.2,1449.4 178.2,1450.2 185.3,1450.7 192.3,1451 199.3,1450.8 208.7,1450.1 218.1,1448.9 227.5,1447.3 243.9,1443.9 283.7,1434.3 293.1,1432.3 300.1,1431.1 307.1,1430.2 314.2,1429.6 321.2,1429.5 328.2,1429.8 332.9,1430.2 339.9,1431.1 347,1432.4 354,1434 365.7,1437.1 393.8,1445.6 405.6,1448.5 412.6,1450 419.6,1451.2 426.6,1452.1 433,1452.7Z"/>
<path fill="#00ff77" d="M433.2,1445.6 445.4,1446.1 459.4,1445.8 471.2,1444.8 485.2,1442.9 494.6,1441.1 504,1439 548.5,1427.7 564.9,1424 564.9,1180.7 72.8,1180.7 72.8,1424 79.8,1424.3 86.9,1424.9 93.9,1425.9 100.9,1427.2 112.6,1429.7 145.4,1437.9 154.8,1440 161.8,1441.3 171.2,1442.7 178.2,1443.4 185.3,1443.9 192.3,1444 199.3,1443.9 206.4,1443.4 213.4,1442.7 222.8,1441.4 241.5,1437.9 281.4,1429.3 297.8,1426.5 307.1,1425.4 314.2,1424.9 321.2,1424.8 328.2,1425 335.3,1425.6 342.3,1426.5 355.7,1429 365.7,1431.5 393.8,1439.2 407.9,1442.4 422,1444.5 433.2,1445.6Z"/>
<path fill="#00ff62" d="M424.4,1438.5 438.4,1439.4 452.4,1439.5 466.5,1438.8 480.5,1437.2 492.3,1435.3 504,1433 550.8,1422.2 564.9,1419.4 564.9,1180.7 72.8,1180.7 72.8,1419.4 78.1,1419.6 84.5,1420 91.5,1420.9 98.6,1422 110.7,1424.3 147.8,1432.8 161.8,1435.3 171.2,1436.6 178.2,1437.2 185.3,1437.6 192.3,1437.8 199.3,1437.6 208.7,1437 225.1,1435 239.2,1432.6 281.2,1424.3 296.4,1421.9 304.8,1421 314.2,1420.5 321.2,1420.4 328.2,1420.6 335.3,1421.2 341.6,1421.9 354,1424 366.3,1426.7 389.2,1432.4 400.9,1435 412.6,1437.1 424.4,1438.5Z"/>
<path fill="#00ff4c" d="M175.6,1431.4 185.3,1432 194.7,1432.1 204,1431.7 215.7,1430.8 225.1,1429.7 236.8,1427.9 274.3,1421 290.7,1418.4 304.8,1416.9 311.8,1416.4 318.8,1416.3 325.9,1416.5 332.9,1417 339.9,1417.8 349.3,1419.1 363.4,1421.8 396.2,1428.9 405.6,1430.6 414.9,1431.9 424.3,1432.9 436,1433.6 445.4,1433.7 457.1,1433.5 466.5,1432.9 475.9,1432 485.2,1430.8 494.6,1429.3 511,1426.3 548.5,1418.3 564.9,1415.2 564.9,1180.7 72.8,1180.7 72.8,1415.2 77.5,1415.3 84.5,1415.8 96.2,1417.3 110.3,1419.8 150.1,1428 164.2,1430.2 175.6,1431.4Z"/>
<path fill="#00ff36" d="M414.9,1426.7 431.3,1427.9 445.4,1428.2 459.4,1427.8 475.9,1426.5 489.9,1424.7 504,1422.5 550.8,1413.6 564.9,1411.2 564.9,1180.7 72.8,1180.7 72.8,1411 82.2,1411.5 93.9,1412.9 110.3,1415.6 140.8,1421.4 152.5,1423.4 166.5,1425.3 180.6,1426.3 190,1426.6 199.3,1426.6 208.7,1426.1 220.4,1425.2 239.2,1422.7 274.3,1416.7 288.4,1414.6 302.4,1413 309.5,1412.6 316.5,1412.4 323.5,1412.5 330.6,1413 344.6,1414.6 358.7,1416.9 393.8,1423.7 405.6,1425.6 414.9,1426.7Z"/>
<path fill="#00ff21" d="M420.3,1421.9 433.7,1422.6 447.7,1422.7 461.8,1422.1 478.2,1420.8 492.3,1419.1 506.3,1417 564.9,1407.2 564.9,1180.7 72.8,1180.7 72.8,1226.1 79.8,1225.3 98.6,1223.8 117.3,1221.9 126.7,1221.6 138.4,1222 194.7,1226.3 208.7,1227.7 218.1,1228.8 230,1230.4 244.4,1232.7 253.5,1235.1 257.5,1237.5 256.5,1239.8 253,1242.2 248,1244.6 240.4,1246.9 231.8,1249.3 220.1,1251.7 205.4,1254 194.7,1255.1 182.9,1255.7 171.2,1255.9 150.1,1256 133.7,1256.6 119.7,1257.7 98.6,1259.9 72.8,1261.3 72.8,1406.9 84.5,1407.6 96.2,1409.1 112.6,1411.7 143.1,1416.9 154.8,1418.7 166.5,1420 180.6,1420.9 190,1421.2 201.7,1421.1 211.1,1420.7 222.8,1419.8 241.5,1417.5 276.7,1412 288.4,1410.4 302.4,1409 309.5,1408.6 316.5,1408.5 328.2,1409 342.3,1410.5 354,1412.2 393.8,1419 407.9,1420.8 420.3,1421.9Z"/>
<path fill="#00ff0b" d="M173.3,1414.8 185.3,1415.4 194.7,1415.5 206.4,1415.3 218.1,1414.7 229.8,1413.7 240.9,1412.5 276.7,1407.4 288.4,1406 302.4,1404.8 309.5,1404.5 316.5,1404.4 328.2,1404.9 339.9,1406.1 349.3,1407.4 384.5,1412.8 398.5,1414.6 407.9,1415.6 419.6,1416.5 429,1417 440.7,1417.2 450.1,1417 468.8,1416 480.5,1415 492.3,1413.6 515.7,1410.5 564.9,1403.2 564.9,1180.7 72.8,1180.7 72.8,1210.9 84.5,1209.4 115,1206.1 126.7,1205.3 138.4,1205 154.8,1205.3 190,1207.1 206.4,1207.6 227.5,1207.7 260.3,1207.2 272,1207.3 283.7,1208.1 309.5,1210.6 321.2,1211.2 335.3,1210.9 363.5,1209.1 377.4,1208.5 391.5,1208.5 404.9,1209.1 414.9,1210 424.3,1211.2 441.1,1213.8 453.9,1216.2 465.4,1218.5 486.3,1223.3 495.5,1225.6 512.3,1230.4 519.8,1232.7 533.2,1237.5 538.6,1239.8 542.7,1242.2 544.2,1244.6 541.5,1246.1 539.1,1246.6 535.1,1246.9 532.1,1247 525.1,1246.7 492.3,1244.2 482.9,1243.9 473.5,1243.9 454.8,1244.8 419.6,1247.6 407.9,1248.8 396.2,1250.6 384.5,1252.9 361,1258.2 349.3,1260.7 335.3,1263.2 328.2,1264.1 318.8,1265.2 309.5,1265.9 300.1,1266.2 279,1266.5 265,1267.3 248.6,1269.1 215.7,1273.8 201.7,1275.2 194.7,1275.5 187.6,1275.4 178.2,1274.9 154.8,1273.3 147.8,1273 138.4,1273 124.4,1273.5 98.6,1275.8 72.8,1277.2 72.8,1402.6 82.2,1403.2 91.5,1404.2 107.9,1406.4 149,1412.5 161.8,1413.9 173.3,1414.8Z"/>
<path fill="#0bff00" d="M411.1,1410.1 426.6,1411 440.7,1411.2 454.8,1410.8 468.8,1410 485.2,1408.6 501.6,1406.8 564.9,1398.8 564.9,1278 549.8,1275.3 520.4,1269.3 508.7,1267.3 501.6,1266.4 492.3,1265.5 485.2,1265.2 478.2,1265.2 468.8,1265.7 440.7,1268.1 412.6,1269.1 400.9,1270 386.8,1272 357.4,1277.7 344.6,1280 325.9,1282.5 309.5,1283.8 276.7,1284.9 260.3,1285.8 243.9,1287.3 218.1,1290.2 206.4,1291.2 197,1291.6 190,1291.5 180.6,1291 154.8,1288.8 145.4,1288.4 136.1,1288.2 117.3,1288.6 72.8,1290.8 72.8,1398 96.2,1400 141.9,1405.4 159.5,1407.3 173.6,1408.4 185.3,1409 201.7,1409.2 211.1,1408.8 220.4,1408.3 236.8,1406.8 274.3,1402.4 286,1401.2 300.1,1400.2 314.2,1399.9 325.9,1400.3 339.9,1401.5 356.3,1403.5 387.7,1407.8 400.9,1409.2 411.1,1410.1ZM563.3,1220.9 564.9,1221.2 564.9,1180.7 72.8,1180.7 72.8,1195.2 100.9,1192 115,1190.6 131.4,1189.5 147.8,1188.8 161.8,1188.9 190,1189.8 204,1190 222.8,1189.7 255.6,1188.6 269.6,1188.5 281.4,1189 309.5,1191.5 321.2,1191.9 332.9,1191.5 363.4,1189 379.8,1188.1 389.2,1187.9 398.5,1188 407.9,1188.3 417.3,1188.9 426.6,1189.8 436,1191 447.7,1193 457.1,1194.9 478.2,1200 531,1213.8 550.8,1218.4 563.3,1220.9Z"/>
<path fill="#21ff00" d="M400.2,1403 412.6,1404.2 426.6,1404.8 443,1404.7 459.4,1404.1 473.5,1403.2 487.6,1402 539.1,1396.4 564.9,1394.1 564.9,1290.4 548.5,1287.7 522.7,1282.9 508.7,1280.6 494.6,1279.1 487.6,1278.8 480.5,1278.7 468.8,1279.3 440.7,1281.5 410.2,1282.7 396.2,1283.7 382.1,1285.6 356.3,1289.8 341.4,1291.9 325.9,1293.4 302.4,1295 295.4,1295.8 286,1297.4 262.6,1302 253.2,1303.3 246.2,1303.9 236.8,1304.1 215.7,1303.6 197,1303.5 182.9,1303.6 164.2,1304 157.2,1304 150.1,1303.5 126.7,1301.1 103.3,1299.7 91.5,1300 72.8,1301.3 72.8,1393.1 77.5,1393.7 84.5,1394.2 103.3,1394.9 110.3,1395.3 145.4,1398 178.2,1401.1 187.6,1401.7 194.7,1401.9 204,1401.8 213.4,1401.3 257.9,1397.3 286,1395.5 307.1,1395.1 332.9,1395.4 347,1396.1 358.7,1397 365.7,1397.9 389.2,1401.5 400.2,1403ZM548.7,1194.9 564.9,1197.2 564.9,1180.7 476.4,1180.7 520.4,1189.8 536.8,1192.9 548.7,1194.9Z"/>
<path fill="#36ff00" d="M414.5,1398.3 424.3,1398.6 433.7,1398.5 466.5,1396.9 487.6,1395.3 522.7,1391.5 536.8,1390.2 550.8,1389.3 564.9,1389 564.9,1298.6 550.8,1296.6 527.4,1292.8 513.3,1290.8 501.6,1289.4 489.9,1288.6 482.9,1288.4 473.5,1288.7 440.7,1291 405.6,1292.5 398.5,1293 389.2,1294 361,1297.8 349.3,1299.1 332.9,1300.5 309.5,1301.8 300.1,1302.9 295.4,1303.9 288.4,1306 269.6,1313.2 262.6,1315.6 257.9,1316.9 253.2,1317.8 246.2,1318.4 241.5,1318.3 236.8,1317.8 218.1,1314.1 211.1,1313.1 204,1312.5 194.7,1312.3 185.3,1312.9 178.2,1313.8 161.8,1316.6 157.2,1317 154.8,1317 152.5,1316.9 147.8,1316.2 131.4,1312.3 122,1310.4 110.3,1308.5 103.3,1307.6 98.6,1307.4 91.5,1307.5 72.8,1309.4 72.8,1388 75.1,1388.6 79.8,1389.3 84.5,1389.6 91.5,1389.3 103.3,1388.2 107.9,1388.1 143.1,1388.8 150.1,1389.2 157.2,1389.8 182.9,1393 190,1393.5 197,1393.7 208.7,1393.3 234.5,1390.7 246.2,1390 260.3,1389.6 279,1389.5 318.8,1390.1 328.2,1389.6 349.3,1387.6 356.3,1387.3 361,1387.5 368.1,1388.8 385.6,1393.6 396.2,1396 405.6,1397.5 414.5,1398.3Z"/>
<path fill="#4cff00" d="M405,1391.2 410.2,1391.9 417.3,1392.3 429,1392.2 480.5,1389 492.3,1387.9 520.4,1384.8 534.4,1383.6 543.8,1383.2 550.8,1383.2 564.9,1383.9 564.9,1305.9 522.7,1300.3 508.7,1298.7 494.6,1297.6 480.5,1297.2 466.5,1297.8 438.4,1299.6 403.2,1301.2 391.5,1302.2 363.4,1305.4 351.7,1306.4 339.9,1307.1 316.5,1307.9 309.5,1308.3 302.4,1309.3 297.8,1310.5 295.4,1311.2 288.4,1314.3 272,1323.7 267.3,1326.2 262.6,1328.3 257.9,1330 255.6,1330.7 250.9,1331.6 248.6,1331.8 243.9,1331.7 239.2,1331 234.5,1329.7 221.7,1325 215.7,1323.1 208.7,1321.5 201.7,1320.6 194.7,1320.4 190,1320.7 185.3,1321.4 178.2,1323.1 161.8,1328.3 157.2,1329.2 152.5,1329.3 150.1,1329 145.4,1327.8 129,1321.8 122,1319.5 110.3,1316.3 103.3,1314.8 98.6,1314.4 91.5,1314.4 84.5,1315.2 72.8,1316.8 72.8,1382.7 75.1,1383.7 77.5,1384.4 82.2,1384.9 84.5,1384.8 89.2,1384.4 93.9,1383.4 103.3,1381.1 107.9,1380.4 133.7,1379.1 143.1,1378.9 150.1,1379.1 154.8,1379.5 161.8,1380.4 182.9,1384 190,1384.7 194.7,1385 199.3,1385 206.4,1384.6 213.4,1383.8 232.1,1381.3 236.8,1380.9 243.9,1380.6 250.9,1380.8 257.9,1381.2 304.8,1384.6 311.8,1384.9 316.5,1384.9 321.2,1384.6 328.2,1383.6 335.3,1382 349.3,1378.1 354,1377.1 358.7,1376.8 363.4,1377.2 368.1,1378.3 372.7,1380 384.5,1385 391.5,1387.7 398.5,1389.9 405,1391.2Z"/>
<path fill="#62ff00" d="M403,1384.1 407.9,1385 414.9,1385.7 419.6,1385.8 426.6,1385.6 447.7,1384 480.5,1382.1 518,1378.3 534.4,1377.3 543.8,1377.1 550.8,1377.3 557.9,1377.8 564.9,1378.6 564.9,1312.9 525.1,1308.6 511,1307.3 494.6,1306.2 480.5,1305.9 466.5,1306.4 438.4,1308.1 403.2,1309.9 368.1,1313 356.3,1313.8 342.3,1314.3 316.5,1314.5 309.5,1314.9 304.8,1315.6 300.1,1316.8 297.1,1317.9 293.1,1319.9 288.6,1322.6 285.3,1325 272,1335.3 267.3,1338.4 262.6,1341 257.9,1342.9 255.6,1343.6 253.2,1344.1 248.6,1344.6 243.9,1344.3 241.5,1343.9 236.8,1342.6 232.1,1340.7 219.8,1334.4 214.4,1332.1 208.7,1330.2 201.7,1328.7 197,1328.4 194.7,1328.4 190,1329 185.3,1330 178.2,1332.4 161.8,1339.5 157.2,1340.9 154.8,1341.3 152.5,1341.5 150.1,1341.4 147.8,1341 143.1,1339.5 138.4,1337.3 128.8,1332.1 122,1328.9 112.3,1325 107.9,1323.5 103.3,1322.1 98.6,1321.4 96.2,1321.3 91.5,1321.4 84.5,1322.2 72.8,1324.1 72.8,1377.3 75.1,1378.6 77.5,1379.4 79.8,1379.9 82.2,1380 84.5,1379.9 89.2,1379 93.9,1377.4 103.3,1373.8 107.9,1372.8 133.7,1369.9 140.8,1369.3 145.4,1369.2 152.5,1369.4 157.2,1369.9 161.8,1370.7 182.9,1375 190,1376 194.7,1376.3 201.7,1376.1 208.7,1375.4 215.7,1374.3 229.8,1371.7 236.8,1370.8 241.5,1370.5 248.6,1370.7 257.9,1371.8 283.7,1376 300.1,1378.4 309.5,1379.4 316.5,1379.4 321.2,1378.9 328.2,1377.4 332.9,1375.9 344.6,1371.9 351.7,1370 356.3,1369.3 361,1369.1 363.4,1369.3 366.9,1369.9 372.7,1371.6 379.8,1374.5 393.8,1381.1 398.5,1382.8 403,1384.1Z"/>
<path fill="#77ff00" d="M404.7,1377 407.9,1377.6 412.6,1378.2 417.3,1378.5 424.3,1378.5 447.7,1376.9 480.5,1375.3 515.7,1372.5 532.1,1371.7 541.5,1371.7 550.8,1372.1 557.9,1372.7 564.9,1373.6 564.9,1320.4 534.4,1317.7 513.3,1316.2 496.9,1315.4 480.5,1315.2 468.8,1315.5 454.8,1316.2 407.9,1319.3 375.1,1321.7 363.4,1322.3 349.3,1322.5 318.8,1321.8 314.2,1321.9 309.5,1322.2 306.8,1322.6 302.4,1323.7 299.1,1325 294.9,1327.3 291.6,1329.7 288.4,1332.5 274.3,1346.5 271.9,1348.6 268.5,1351 265,1352.6 260.3,1354.1 255.6,1355 248.6,1355.5 241.5,1355 236.8,1354.1 234.3,1353.4 228.4,1351 216.9,1343.9 211.1,1340.8 207.1,1339.2 204,1338.2 199.3,1337.3 197,1337.2 192.3,1337.5 190,1338 185.3,1339.3 180.1,1341.5 166.5,1348.6 161.8,1350.8 159.5,1351.6 154.8,1352.9 150.1,1353.8 145.4,1354 143.1,1353.8 140.8,1353.2 138.4,1351.9 136.1,1350.3 124.6,1341.5 117.2,1336.8 107.9,1332.2 103.3,1330.4 98.6,1329.3 96.2,1329 91.5,1329 85.6,1329.7 72.8,1332 72.8,1371.6 75.1,1373.1 77.5,1374 79.8,1374.5 82.2,1374.6 84.5,1374.4 86.9,1373.8 91.5,1372.1 100.9,1367.8 105.6,1366.3 110.3,1365.4 126.4,1362.8 138.4,1361.3 147.8,1360.9 154.8,1361.2 165,1362.8 178.2,1365.9 185.3,1367.3 192.3,1368.1 197,1368.2 201.7,1368 208.7,1367.1 215.7,1365.7 227.5,1362.8 234.5,1361.4 239.2,1360.7 246.2,1360.3 253.2,1360.7 260.3,1361.9 267.3,1363.6 283.7,1368.2 293.1,1370.5 302.4,1372.4 307.1,1373.1 311.8,1373.5 316.5,1373.5 318.8,1373.3 323.5,1372.5 330.6,1370.6 344.6,1366.2 351.7,1364.5 358.7,1363.6 361,1363.6 365.7,1363.9 372.4,1365.2 377.4,1366.7 384.5,1369.3 397.1,1374.6 400.9,1376 404.7,1377Z"/>
<path fill="#8dff00" d="M433.4,1369.9 450.1,1369.8 466.5,1369.4 482.9,1368.8 506.7,1367.5 527.4,1367 539.1,1367.1 550.8,1367.4 557.9,1368 564.9,1368.8 564.9,1329.2 553.2,1328.2 534.4,1327.1 513.3,1326.6 489.9,1326.6 463.5,1327.3 450.1,1328.1 436,1329.4 405.6,1333.5 391.5,1335.1 382.1,1335.9 372.7,1336.2 363.4,1336.2 356.3,1335.9 349.3,1335.2 330.6,1332.8 323.5,1332.2 316.5,1332.1 311.8,1332.3 307.1,1333.2 303.3,1334.4 300.1,1336.2 297.8,1337.9 295.4,1340.2 293.1,1342.8 284.6,1353.4 283,1355.7 282.4,1358.1 285.7,1360.5 293.1,1363 297.8,1364.3 304.8,1365.9 311.8,1366.9 318.8,1367 323.5,1366.5 330.6,1365.2 349.3,1360.6 351.7,1360.2 358.7,1359.7 365.7,1359.7 370.4,1360 377.4,1361.1 400.9,1367 410.2,1368.6 419.6,1369.5 433.4,1369.9ZM77,1367.5 79.8,1368.1 82.2,1368.1 84.5,1367.8 86.9,1367.2 98.6,1362.5 103.3,1361.3 107.4,1360.5 117.1,1358.1 116.7,1355.7 115.6,1353.4 113.8,1351 111.4,1348.6 108.6,1346.3 105.2,1343.9 103.3,1342.8 100.9,1341.6 98.6,1340.8 93.9,1339.8 89.2,1339.7 84.5,1340.2 77.5,1341.2 72.8,1341.5 72.8,1365.8 75.1,1366.9 77,1367.5ZM184.6,1360.5 192.3,1361.3 197,1361.3 201.7,1361.1 207.1,1360.5 211.1,1359.5 216,1358.1 214.2,1355.7 210.4,1353.4 206.4,1351.4 201.7,1349.7 199.3,1349.1 197,1348.8 194.7,1348.9 192.3,1349.2 187.6,1350.4 180.5,1353.4 176.4,1355.7 174.6,1358.1 184.6,1360.5Z"/>
<path fill="#a3ff00" d="M431.3,1362.8 440.7,1363.6 452.4,1363.9 532.1,1363.8 548.5,1364.2 564.9,1365 564.9,1338.6 555.5,1337.6 543.8,1336.9 534.4,1336.7 522.7,1337 508.7,1337.7 480.5,1340.1 459.4,1341.5 450.1,1342.4 443,1343.5 438.4,1344.4 433.7,1345.6 431.3,1346.3 425.3,1348.6 420.8,1351 419.6,1351.9 417.7,1353.4 415.9,1355.7 415.2,1358.1 418.9,1360.5 424.3,1361.6 431.3,1362.8ZM72.8,1360.5 77.5,1360.8 81.9,1360.5 87.3,1358.1 86.1,1355.7 84.5,1354.8 82.2,1353.8 80.7,1353.4 77.5,1352.9 72.8,1352.7 72.8,1360.5ZM313.8,1360.5 316.5,1360.7 321.2,1360.9 328,1360.5 335.3,1358.9 340.4,1358.1 339.6,1355.7 337.6,1353.5 333.3,1351 330.6,1350.1 325.9,1349.1 321.2,1348.9 318.8,1349.2 316.5,1349.7 314.2,1350.6 311.8,1352.1 310.4,1353.4 309.5,1354.6 308.8,1355.7 308.3,1358.1 311.8,1359.8 313.8,1360.5Z"/>
<path fill="#b8ff00" d="M516.6,1360.5 546.2,1361.2 564.9,1361.3 564.9,1348.7 560.2,1347.8 553.2,1347 546.2,1346.6 539.1,1346.6 532.1,1347 525.1,1347.8 519.5,1348.6 513.3,1350 509.5,1351 503.3,1353.4 499.5,1355.7 498.2,1358.1 506.3,1359.3 516.6,1360.5Z"/>
<path fill="none" stroke="#3c3c3c" stroke-width="1.05" stroke-linejoin="round" d="M564.9,1588.3 548.5,1591.9 535.4,1594.6M72.8,1456.1 79.8,1457.3 82.2,1457.8 90,1459.8 97.6,1462.2 110.7,1466.9 143.1,1479.9 154.8,1484.1 164.2,1487 173.6,1489.3 182.9,1490.9 190,1491.7 197,1492.1 201.7,1492 206.4,1491.8 213.4,1491.1 222.8,1489.5 232.1,1487.3 241.5,1484.6 248.6,1482.2 255.6,1479.5 265,1475.7 272,1472.7 290.3,1464.5 296.2,1462.2 302.4,1460 309.5,1458.3 314.2,1457.5 318.8,1457.2 323.5,1457.4 328.2,1458.2 335.2,1459.8 342.3,1462.2 347.8,1464.5 353.1,1466.9 375.1,1477.2 386.8,1482.4 398.5,1487.1 405.6,1489.7 410.2,1491.2 419.6,1493.8 424.3,1494.9 429,1495.7 433.7,1496.5 438.4,1497 443,1497.3 447.7,1497.4 452.4,1497.3 457.1,1497 461.8,1496.5 466.5,1495.8 471.2,1494.9 475.9,1493.9 485.2,1491.3 494.6,1488.1 504,1484.5 513.3,1480.6 533.9,1471.6 545.3,1466.9 550.8,1464.8 557.9,1462.2 564.9,1460.1M72.8,1424 79.8,1424.3 86.9,1424.9 93.9,1425.9 100.9,1427.2 112.6,1429.7 145.4,1437.9 154.8,1440 161.8,1441.3 171.2,1442.7 178.2,1443.4 185.3,1443.9 192.3,1444 199.3,1443.9 206.4,1443.4 213.4,1442.7 222.8,1441.4 232.1,1439.7 241.5,1437.9 271.1,1431.4 281.4,1429.3 290.7,1427.6 297.8,1426.5 307.1,1425.4 314.2,1424.9 321.2,1424.8 328.2,1425 335.3,1425.6 342.3,1426.5 347,1427.3 355.7,1429 365.7,1431.5 386.8,1437.3 396.2,1439.8 403.2,1441.4 410.2,1442.8 419.6,1444.2 429,1445.3 438.4,1445.9 447.7,1446.1 457.1,1445.9 468.8,1445.1 478.2,1443.9 489.9,1442 499.3,1440.1 508.7,1437.9 548.5,1427.7 557.9,1425.5 564.9,1424M72.8,1398 84.5,1398.9 96.2,1400 110.3,1401.6 141.9,1405.4 159.5,1407.3 173.6,1408.4 185.3,1409 194.7,1409.2 201.7,1409.2 211.1,1408.8 220.4,1408.3 227.5,1407.7 236.8,1406.8 274.3,1402.4 286,1401.2 300.1,1400.2 307.1,1400 314.2,1399.9 325.9,1400.3 339.9,1401.5 356.3,1403.5 387.7,1407.8 405.6,1409.7 412.6,1410.2 422,1410.8 431.3,1411.1 438.4,1411.2 447.7,1411.1 459.4,1410.6 468.8,1410 482.9,1408.8 494.6,1407.6 513.2,1405.4 543.8,1401.4 564.9,1398.8M564.9,1278 549.8,1275.3 520.4,1269.3 508.7,1267.3 501.6,1266.4 492.3,1265.5 485.2,1265.2 478.2,1265.2 468.8,1265.7 440.7,1268.1 412.6,1269.1 405.6,1269.6 400.9,1270 393.8,1270.9 386.8,1272 375.1,1274.1 357.4,1277.7 344.6,1280 332.9,1281.7 325.9,1282.5 318.8,1283.2 309.5,1283.8 276.7,1284.9 260.3,1285.8 243.9,1287.3 218.1,1290.2 206.4,1291.2 197,1291.6 190,1291.5 180.6,1291 154.8,1288.8 145.4,1288.4 136.1,1288.2 126.7,1288.3 117.3,1288.6 72.8,1290.8M72.8,1195.2 100.9,1192 115,1190.6 131.4,1189.5 145.4,1188.9 152.5,1188.8 161.8,1188.9 190,1189.8 204,1190 222.8,1189.7 255.6,1188.6 269.6,1188.5 281.4,1189 309.5,1191.5 316.5,1191.9 321.2,1191.9 328.2,1191.8 335.3,1191.4 361,1189.1 375.1,1188.3 382.1,1188 391.5,1187.9 400.9,1188 407.9,1188.3 419.6,1189.1 431.3,1190.4 443,1192.1 454.8,1194.4 467.3,1197.3 478.2,1200 512.5,1209.1 531,1213.8 550.8,1218.4 564.9,1221.2M72.8,1365.8 75.1,1366.9 77.5,1367.7 79.8,1368.1 82.2,1368.1 84.5,1367.8 86.9,1367.2 89.2,1366.3 98.6,1362.5 103.3,1361.3 107.4,1360.5 117.1,1358.1 116.7,1355.7 115.6,1353.4 113.8,1351 111.4,1348.6 108.6,1346.3 105.2,1343.9 100.8,1341.5 98.6,1340.8 96.2,1340.2 93.9,1339.8 91.5,1339.7 86.9,1339.9 77.5,1341.2 72.8,1341.5M184.6,1360.5 187.6,1360.9 192.3,1361.3 197,1361.3 201.7,1361.1 207.1,1360.5 211.1,1359.5 216,1358.1 214.2,1355.7 210.4,1353.4 206.4,1351.4 204,1350.5 201.7,1349.7 199.3,1349.1 197,1348.8 194.7,1348.9 192.3,1349.2 190,1349.7 187.6,1350.4 180.5,1353.4 176.4,1355.7 174.6,1358.1 180.6,1359.6 184.6,1360.5M564.9,1329.2 553.2,1328.2 543.8,1327.6 532.1,1327 520.4,1326.7 508.7,1326.5 494.6,1326.6 478.2,1326.9 466.5,1327.2 452.4,1328 438.4,1329.2 429,1330.3 403.2,1333.8 389.2,1335.3 379.8,1336 370.4,1336.3 361,1336.1 354,1335.7 332.9,1333.1 325.9,1332.4 318.8,1332.1 314.2,1332.1 311.8,1332.3 309.5,1332.6 307.1,1333.2 303.3,1334.4 300.1,1336.2 297.8,1337.9 295.4,1340.2 293.1,1342.8 284.6,1353.4 283,1355.7 282.4,1358.1 285.7,1360.5 292.6,1362.8 295.4,1363.6 300.1,1364.9 304.8,1365.9 309.5,1366.6 314.2,1367 318.8,1367 321.2,1366.8 325.9,1366.1 330.6,1365.2 340,1362.8 350.1,1360.5 356.3,1359.8 363.4,1359.6 370.4,1360 373.9,1360.5 377.4,1361.1 386.8,1363.3 393.5,1365.2 398.5,1366.4 400.9,1367 407.9,1368.3 414.9,1369.2 422,1369.6 429,1369.9 438.4,1369.9 459.4,1369.6 480.5,1368.9 506.7,1367.5 520.4,1367.1 529.8,1367 541.5,1367.1 550.8,1367.4 557.9,1368 564.9,1368.8"/>
<rect x="72.8" y="1180.7" width="492.1" height="413.9" fill="none" stroke="#000" stroke-width="2.1"/>
<rect x="72.2" y="1353.2" width="493.5" height="9.6" fill="#808080"/>
<text x="64.2" y="1599.7" text-anchor="end" font-size="16.7">0</text>
<text x="64.2" y="1540.6" text-anchor="end" font-size="16.7">100</text>
<text x="64.2" y="1481.4" text-anchor="end" font-size="16.7">200</text>
<text x="64.2" y="1422.3" text-anchor="end" font-size="16.7">300</text>
<text x="64.2" y="1363.2" text-anchor="end" font-size="16.7">400</text>
<text x="64.2" y="1304.1" text-anchor="end" font-size="16.7">500</text>
<text x="64.2" y="1244.9" text-anchor="end" font-size="16.7">600</text>
<text x="64.2" y="1185.8" text-anchor="end" font-size="16.7">700</text>
<text x="72.8" y="1617.1" text-anchor="middle" font-size="16.7">0</text>
<text x="154.8" y="1617.1" text-anchor="middle" font-size="16.7">140</text>
<text x="236.8" y="1617.1" text-anchor="middle" font-size="16.7">280</text>
<text x="318.8" y="1617.1" text-anchor="middle" font-size="16.7">420</text>
<text x="400.9" y="1617.1" text-anchor="middle" font-size="16.7">560</text>
<text x="482.9" y="1617.1" text-anchor="middle" font-size="16.7">700</text>
<text x="564.9" y="1617.1" text-anchor="middle" font-size="16.7">840</text>
<text x="319" y="1648" text-anchor="middle" font-size="20.4">The horizontal direction/mm</text>
<text transform="translate(17.6,1387.5) rotate(-90)" text-anchor="middle" font-size="20.9">The vertical direction/mm</text>
<text x="242.4" y="1676.1" font-size="27.9">c. 4 h for Case VI</text>
<rect x="585.9" y="1180.70" width="33.8" height="413.90" fill="#ff0000"/>
<rect x="585.9" y="1189.32" width="33.8" height="405.28" fill="#ff1600"/>
<rect x="585.9" y="1197.95" width="33.8" height="396.65" fill="#ff2b00"/>
<rect x="585.9" y="1206.57" width="33.8" height="388.03" fill="#ff4100"/>
<rect x="585.9" y="1215.19" width="33.8" height="379.41" fill="#ff5700"/>
<rect x="585.9" y="1223.81" width="33.8" height="370.79" fill="#ff6d00"/>
<rect x="585.9" y="1232.44" width="33.8" height="362.16" fill="#ff8200"/>
<rect x="585.9" y="1241.06" width="33.8" height="353.54" fill="#ff9800"/>
<rect x="585.9" y="1249.68" width="33.8" height="344.92" fill="#ffae00"/>
<rect x="585.9" y="1258.31" width="33.8" height="336.29" fill="#ffc300"/>
<rect x="585.9" y="1266.93" width="33.8" height="327.67" fill="#ffd900"/>
<rect x="585.9" y="1275.55" width="33.8" height="319.05" fill="#ffef00"/>
<rect x="585.9" y="1284.17" width="33.8" height="310.42" fill="#faff00"/>
<rect x="585.9" y="1292.80" width="33.8" height="301.80" fill="#e4ff00"/>
<rect x="585.9" y="1301.42" width="33.8" height="293.18" fill="#ceff00"/>
<rect x="585.9" y="1310.04" width="33.8" height="284.56" fill="#b8ff00"/>
<rect x="585.9" y="1318.67" width="33.8" height="275.93" fill="#a3ff00"/>
<rect x="585.9" y="1327.29" width="33.8" height="267.31" fill="#8dff00"/>
<rect x="585.9" y="1335.91" width="33.8" height="258.69" fill="#77ff00"/>
<rect x="585.9" y="1344.54" width="33.8" height="250.06" fill="#62ff00"/>
<rect x="585.9" y="1353.16" width="33.8" height="241.44" fill="#4cff00"/>
<rect x="585.9" y="1361.78" width="33.8" height="232.82" fill="#36ff00"/>
<rect x="585.9" y="1370.40" width="33.8" height="224.20" fill="#21ff00"/>
<rect x="585.9" y="1379.03" width="33.8" height="215.57" fill="#0bff00"/>
<rect x="585.9" y="1387.65" width="33.8" height="206.95" fill="#00ff0b"/>
<rect x="585.9" y="1396.27" width="33.8" height="198.33" fill="#00ff21"/>
<rect x="585.9" y="1404.90" width="33.8" height="189.70" fill="#00ff36"/>
<rect x="585.9" y="1413.52" width="33.8" height="181.08" fill="#00ff4c"/>
<rect x="585.9" y="1422.14" width="33.8" height="172.46" fill="#00ff62"/>
<rect x="585.9" y="1430.76" width="33.8" height="163.84" fill="#00ff77"/>
<rect x="585.9" y="1439.39" width="33.8" height="155.21" fill="#00ff8d"/>
<rect x="585.9" y="1448.01" width="33.8" height="146.59" fill="#00ffa3"/>
<rect x="585.9" y="1456.63" width="33.8" height="137.97" fill="#00ffb8"/>
<rect x="585.9" y="1465.26" width="33.8" height="129.34" fill="#00ffce"/>
<rect x="585.9" y="1473.88" width="33.8" height="120.72" fill="#00ffe4"/>
<rect x="585.9" y="1482.50" width="33.8" height="112.10" fill="#00fffa"/>
<rect x="585.9" y="1491.12" width="33.8" height="103.47" fill="#00efff"/>
<rect x="585.9" y="1499.75" width="33.8" height="94.85" fill="#00d9ff"/>
<rect x="585.9" y="1508.37" width="33.8" height="86.23" fill="#00c3ff"/>
<rect x="585.9" y="1516.99" width="33.8" height="77.61" fill="#00aeff"/>
<rect x="585.9" y="1525.62" width="33.8" height="68.98" fill="#0098ff"/>
<rect x="585.9" y="1534.24" width="33.8" height="60.36" fill="#0082ff"/>
<rect x="585.9" y="1542.86" width="33.8" height="51.74" fill="#006dff"/>
<rect x="585.9" y="1551.49" width="33.8" height="43.11" fill="#0057ff"/>
<rect x="585.9" y="1560.11" width="33.8" height="34.49" fill="#0041ff"/>
<rect x="585.9" y="1568.73" width="33.8" height="25.87" fill="#002bff"/>
<rect x="585.9" y="1577.35" width="33.8" height="17.25" fill="#0016ff"/>
<rect x="585.9" y="1585.98" width="33.8" height="8.62" fill="#0000ff"/>
<rect x="586.3" y="1180.7" width="33.4" height="413.9" fill="none" stroke="#000" stroke-width="1"/>
<line x1="619.7" y1="1180.2" x2="619.7" y2="1595.1" stroke="#000" stroke-width="1.6"/>
<line x1="619.7" y1="1594.6" x2="626.9" y2="1594.6" stroke="#000" stroke-width="1.3"/>
<text x="633.4" y="1600.2" font-size="16.7">18.00</text>
<line x1="619.7" y1="1542.9" x2="626.9" y2="1542.9" stroke="#000" stroke-width="1.3"/>
<text x="633.4" y="1548.5" font-size="16.7">19.00</text>
<line x1="619.7" y1="1491.1" x2="626.9" y2="1491.1" stroke="#000" stroke-width="1.3"/>
<text x="633.4" y="1496.7" font-size="16.7">20.00</text>
<line x1="619.7" y1="1439.4" x2="626.9" y2="1439.4" stroke="#000" stroke-width="1.3"/>
<text x="633.4" y="1445" font-size="16.7">21.00</text>
<line x1="619.7" y1="1387.7" x2="626.9" y2="1387.7" stroke="#000" stroke-width="1.3"/>
<text x="633.4" y="1393.2" font-size="16.7">22.00</text>
<line x1="619.7" y1="1335.9" x2="626.9" y2="1335.9" stroke="#000" stroke-width="1.3"/>
<text x="633.4" y="1341.5" font-size="16.7">23.00</text>
<line x1="619.7" y1="1284.2" x2="626.9" y2="1284.2" stroke="#000" stroke-width="1.3"/>
<text x="633.4" y="1289.8" font-size="16.7">24.00</text>
<line x1="619.7" y1="1232.4" x2="626.9" y2="1232.4" stroke="#000" stroke-width="1.3"/>
<text x="633.4" y="1238" font-size="16.7">25.00</text>
<line x1="619.7" y1="1180.7" x2="626.9" y2="1180.7" stroke="#000" stroke-width="1.3"/>
<text x="633.4" y="1186.3" font-size="16.7">26.00</text>
<text x="523.7" y="1165.5" font-size="20.5">The temperature/<tspan dx="0">°</tspan><tspan dx="-1.6">C</tspan></text>
<text x="481" y="1314.5" font-size="20.5">The pipe</text>
<line x1="479" y1="1325.9" x2="446.8" y2="1344.7" stroke="#000" stroke-width="1.45"/>
<path d="M436.4,1350.7L445.1,1341.7L448.5,1347.6Z" fill="#000"/>
</svg>
</body></html>
